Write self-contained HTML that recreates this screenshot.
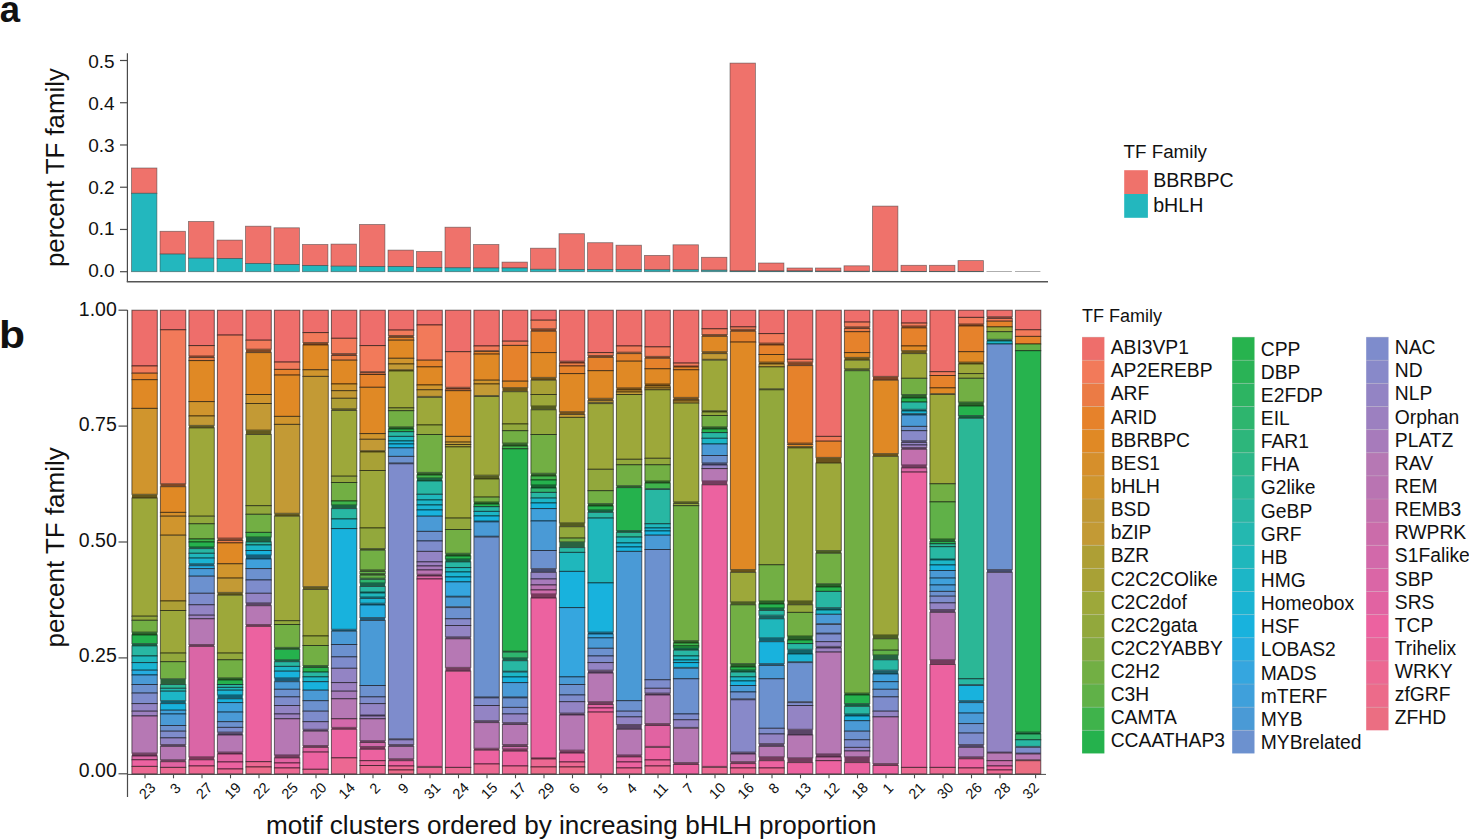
<!DOCTYPE html>
<html><head><meta charset="utf-8"><style>
html,body{margin:0;padding:0;background:#fff;}
body{width:1469px;height:840px;position:relative;overflow:hidden;font-family:"Liberation Sans",sans-serif;}
</style></head><body>
<svg width="1469" height="840" viewBox="0 0 1469 840" style="position:absolute;left:0;top:0">
<g font-family="'Liberation Sans', sans-serif" fill="#111">
<text x="-0.3" y="22.0" font-size="36.5" font-weight="bold">a</text>
<text transform="translate(-0.9,348) scale(1.12,1)" font-size="38" font-weight="bold">b</text>
<line x1="127.4" y1="53.2" x2="127.4" y2="282" stroke="#4a4a4a" stroke-width="1.2"/>
<line x1="126.8" y1="281.8" x2="1048" y2="281.8" stroke="#555" stroke-width="1.4"/>
<line x1="120" y1="271.70" x2="127.4" y2="271.70" stroke="#4a4a4a" stroke-width="1.2"/>
<text x="114.7" y="277.05" font-size="19" text-anchor="end">0.0</text>
<line x1="120" y1="229.46" x2="127.4" y2="229.46" stroke="#4a4a4a" stroke-width="1.2"/>
<text x="114.7" y="235.32" font-size="19" text-anchor="end">0.1</text>
<line x1="120" y1="187.22" x2="127.4" y2="187.22" stroke="#4a4a4a" stroke-width="1.2"/>
<text x="114.7" y="193.59" font-size="19" text-anchor="end">0.2</text>
<line x1="120" y1="144.98" x2="127.4" y2="144.98" stroke="#4a4a4a" stroke-width="1.2"/>
<text x="114.7" y="151.86" font-size="19" text-anchor="end">0.3</text>
<line x1="120" y1="102.74" x2="127.4" y2="102.74" stroke="#4a4a4a" stroke-width="1.2"/>
<text x="114.7" y="110.13" font-size="19" text-anchor="end">0.4</text>
<line x1="120" y1="60.50" x2="127.4" y2="60.50" stroke="#4a4a4a" stroke-width="1.2"/>
<text x="114.7" y="68.40" font-size="19" text-anchor="end">0.5</text>
<text transform="translate(64,167.6) rotate(-90)" font-size="25.8" text-anchor="middle">percent TF family</text>
<rect x="131.50" y="168.00" width="25.4" height="25.30" fill="#EF726B" stroke="#3a3a3a" stroke-width="0.8" stroke-opacity="0.6"/>
<rect x="131.50" y="193.30" width="25.4" height="78.40" fill="#23B7BE" stroke="#3a3a3a" stroke-width="0.8" stroke-opacity="0.6"/>
<rect x="160.00" y="231.30" width="25.4" height="22.80" fill="#EF726B" stroke="#3a3a3a" stroke-width="0.8" stroke-opacity="0.6"/>
<rect x="160.00" y="254.10" width="25.4" height="17.60" fill="#23B7BE" stroke="#3a3a3a" stroke-width="0.8" stroke-opacity="0.6"/>
<rect x="188.50" y="221.50" width="25.4" height="36.70" fill="#EF726B" stroke="#3a3a3a" stroke-width="0.8" stroke-opacity="0.6"/>
<rect x="188.50" y="258.20" width="25.4" height="13.50" fill="#23B7BE" stroke="#3a3a3a" stroke-width="0.8" stroke-opacity="0.6"/>
<rect x="217.00" y="240.10" width="25.4" height="18.50" fill="#EF726B" stroke="#3a3a3a" stroke-width="0.8" stroke-opacity="0.6"/>
<rect x="217.00" y="258.60" width="25.4" height="13.10" fill="#23B7BE" stroke="#3a3a3a" stroke-width="0.8" stroke-opacity="0.6"/>
<rect x="245.50" y="226.20" width="25.4" height="37.30" fill="#EF726B" stroke="#3a3a3a" stroke-width="0.8" stroke-opacity="0.6"/>
<rect x="245.50" y="263.50" width="25.4" height="8.20" fill="#23B7BE" stroke="#3a3a3a" stroke-width="0.8" stroke-opacity="0.6"/>
<rect x="274.00" y="227.80" width="25.4" height="36.80" fill="#EF726B" stroke="#3a3a3a" stroke-width="0.8" stroke-opacity="0.6"/>
<rect x="274.00" y="264.60" width="25.4" height="7.10" fill="#23B7BE" stroke="#3a3a3a" stroke-width="0.8" stroke-opacity="0.6"/>
<rect x="302.50" y="244.50" width="25.4" height="21.10" fill="#EF726B" stroke="#3a3a3a" stroke-width="0.8" stroke-opacity="0.6"/>
<rect x="302.50" y="265.60" width="25.4" height="6.10" fill="#23B7BE" stroke="#3a3a3a" stroke-width="0.8" stroke-opacity="0.6"/>
<rect x="331.00" y="244.10" width="25.4" height="22.10" fill="#EF726B" stroke="#3a3a3a" stroke-width="0.8" stroke-opacity="0.6"/>
<rect x="331.00" y="266.20" width="25.4" height="5.50" fill="#23B7BE" stroke="#3a3a3a" stroke-width="0.8" stroke-opacity="0.6"/>
<rect x="359.50" y="224.50" width="25.4" height="42.10" fill="#EF726B" stroke="#3a3a3a" stroke-width="0.8" stroke-opacity="0.6"/>
<rect x="359.50" y="266.60" width="25.4" height="5.10" fill="#23B7BE" stroke="#3a3a3a" stroke-width="0.8" stroke-opacity="0.6"/>
<rect x="388.00" y="250.10" width="25.4" height="16.50" fill="#EF726B" stroke="#3a3a3a" stroke-width="0.8" stroke-opacity="0.6"/>
<rect x="388.00" y="266.60" width="25.4" height="5.10" fill="#23B7BE" stroke="#3a3a3a" stroke-width="0.8" stroke-opacity="0.6"/>
<rect x="416.50" y="251.50" width="25.4" height="16.10" fill="#EF726B" stroke="#3a3a3a" stroke-width="0.8" stroke-opacity="0.6"/>
<rect x="416.50" y="267.60" width="25.4" height="4.10" fill="#23B7BE" stroke="#3a3a3a" stroke-width="0.8" stroke-opacity="0.6"/>
<rect x="445.00" y="227.20" width="25.4" height="40.60" fill="#EF726B" stroke="#3a3a3a" stroke-width="0.8" stroke-opacity="0.6"/>
<rect x="445.00" y="267.80" width="25.4" height="3.90" fill="#23B7BE" stroke="#3a3a3a" stroke-width="0.8" stroke-opacity="0.6"/>
<rect x="473.50" y="244.50" width="25.4" height="23.50" fill="#EF726B" stroke="#3a3a3a" stroke-width="0.8" stroke-opacity="0.6"/>
<rect x="473.50" y="268.00" width="25.4" height="3.70" fill="#23B7BE" stroke="#3a3a3a" stroke-width="0.8" stroke-opacity="0.6"/>
<rect x="502.00" y="262.10" width="25.4" height="5.90" fill="#EF726B" stroke="#3a3a3a" stroke-width="0.8" stroke-opacity="0.6"/>
<rect x="502.00" y="268.00" width="25.4" height="3.70" fill="#23B7BE" stroke="#3a3a3a" stroke-width="0.8" stroke-opacity="0.6"/>
<rect x="530.50" y="248.20" width="25.4" height="21.10" fill="#EF726B" stroke="#3a3a3a" stroke-width="0.8" stroke-opacity="0.6"/>
<rect x="530.50" y="269.30" width="25.4" height="2.40" fill="#23B7BE" stroke="#3a3a3a" stroke-width="0.8" stroke-opacity="0.6"/>
<rect x="559.00" y="233.70" width="25.4" height="35.80" fill="#EF726B" stroke="#3a3a3a" stroke-width="0.8" stroke-opacity="0.6"/>
<rect x="559.00" y="269.50" width="25.4" height="2.20" fill="#23B7BE" stroke="#3a3a3a" stroke-width="0.8" stroke-opacity="0.6"/>
<rect x="587.50" y="242.70" width="25.4" height="26.80" fill="#EF726B" stroke="#3a3a3a" stroke-width="0.8" stroke-opacity="0.6"/>
<rect x="587.50" y="269.50" width="25.4" height="2.20" fill="#23B7BE" stroke="#3a3a3a" stroke-width="0.8" stroke-opacity="0.6"/>
<rect x="616.00" y="245.20" width="25.4" height="24.40" fill="#EF726B" stroke="#3a3a3a" stroke-width="0.8" stroke-opacity="0.6"/>
<rect x="616.00" y="269.60" width="25.4" height="2.10" fill="#23B7BE" stroke="#3a3a3a" stroke-width="0.8" stroke-opacity="0.6"/>
<rect x="644.50" y="255.40" width="25.4" height="14.40" fill="#EF726B" stroke="#3a3a3a" stroke-width="0.8" stroke-opacity="0.6"/>
<rect x="644.50" y="269.80" width="25.4" height="1.90" fill="#23B7BE" stroke="#3a3a3a" stroke-width="0.8" stroke-opacity="0.6"/>
<rect x="673.00" y="244.80" width="25.4" height="25.00" fill="#EF726B" stroke="#3a3a3a" stroke-width="0.8" stroke-opacity="0.6"/>
<rect x="673.00" y="269.80" width="25.4" height="1.90" fill="#23B7BE" stroke="#3a3a3a" stroke-width="0.8" stroke-opacity="0.6"/>
<rect x="701.50" y="257.30" width="25.4" height="12.90" fill="#EF726B" stroke="#3a3a3a" stroke-width="0.8" stroke-opacity="0.6"/>
<rect x="701.50" y="270.20" width="25.4" height="1.50" fill="#23B7BE" stroke="#3a3a3a" stroke-width="0.8" stroke-opacity="0.6"/>
<rect x="730.00" y="63.10" width="25.4" height="207.90" fill="#EF726B" stroke="#3a3a3a" stroke-width="0.8" stroke-opacity="0.6"/>
<rect x="730.00" y="271.00" width="25.4" height="0.70" fill="#23B7BE" stroke="#3a3a3a" stroke-width="0.8" stroke-opacity="0.6"/>
<rect x="758.50" y="263.00" width="25.4" height="8.00" fill="#EF726B" stroke="#3a3a3a" stroke-width="0.8" stroke-opacity="0.6"/>
<rect x="758.50" y="271.00" width="25.4" height="0.70" fill="#23B7BE" stroke="#3a3a3a" stroke-width="0.8" stroke-opacity="0.6"/>
<rect x="787.00" y="268.00" width="25.4" height="3.00" fill="#EF726B" stroke="#3a3a3a" stroke-width="0.8" stroke-opacity="0.6"/>
<rect x="787.00" y="271.00" width="25.4" height="0.70" fill="#23B7BE" stroke="#3a3a3a" stroke-width="0.8" stroke-opacity="0.6"/>
<rect x="815.50" y="268.00" width="25.4" height="3.20" fill="#EF726B" stroke="#3a3a3a" stroke-width="0.8" stroke-opacity="0.6"/>
<rect x="815.50" y="271.20" width="25.4" height="0.50" fill="#23B7BE" stroke="#3a3a3a" stroke-width="0.8" stroke-opacity="0.6"/>
<rect x="844.00" y="265.80" width="25.4" height="5.50" fill="#EF726B" stroke="#3a3a3a" stroke-width="0.8" stroke-opacity="0.6"/>
<rect x="844.00" y="271.30" width="25.4" height="0.40" fill="#23B7BE" stroke="#3a3a3a" stroke-width="0.8" stroke-opacity="0.6"/>
<rect x="872.50" y="206.10" width="25.4" height="65.20" fill="#EF726B" stroke="#3a3a3a" stroke-width="0.8" stroke-opacity="0.6"/>
<rect x="872.50" y="271.30" width="25.4" height="0.40" fill="#23B7BE" stroke="#3a3a3a" stroke-width="0.8" stroke-opacity="0.6"/>
<rect x="901.00" y="265.30" width="25.4" height="6.10" fill="#EF726B" stroke="#3a3a3a" stroke-width="0.8" stroke-opacity="0.6"/>
<rect x="901.00" y="271.40" width="25.4" height="0.30" fill="#23B7BE" stroke="#3a3a3a" stroke-width="0.8" stroke-opacity="0.6"/>
<rect x="929.50" y="265.30" width="25.4" height="6.10" fill="#EF726B" stroke="#3a3a3a" stroke-width="0.8" stroke-opacity="0.6"/>
<rect x="929.50" y="271.40" width="25.4" height="0.30" fill="#23B7BE" stroke="#3a3a3a" stroke-width="0.8" stroke-opacity="0.6"/>
<rect x="958.00" y="260.60" width="25.4" height="10.80" fill="#EF726B" stroke="#3a3a3a" stroke-width="0.8" stroke-opacity="0.6"/>
<rect x="958.00" y="271.40" width="25.4" height="0.30" fill="#23B7BE" stroke="#3a3a3a" stroke-width="0.8" stroke-opacity="0.6"/>
<line x1="986.50" y1="271.50" x2="1011.90" y2="271.50" stroke="#999" stroke-width="0.8"/>
<line x1="1015.00" y1="271.50" x2="1040.40" y2="271.50" stroke="#999" stroke-width="0.8"/>
<text x="1123.5" y="157.9" font-size="18.8">TF Family</text>
<rect x="1124.2" y="170.2" width="23.7" height="23.8" fill="#EF726B" stroke="#fff" stroke-width="0"/>
<rect x="1124.2" y="194" width="23.7" height="23.8" fill="#23B7BE"/>
<text x="1153.2" y="186.9" font-size="19.6">BBRBPC</text>
<text x="1153.2" y="211.6" font-size="19.6">bHLH</text>
<line x1="127.5" y1="310" x2="127.5" y2="797" stroke="#4a4a4a" stroke-width="1.2"/>
<line x1="127.5" y1="774.4" x2="1046" y2="774.4" stroke="#4a4a4a" stroke-width="1"/>
<line x1="118.5" y1="773.80" x2="127.5" y2="773.80" stroke="#4a4a4a" stroke-width="1.2"/>
<text x="116.8" y="776.90" font-size="19.5" text-anchor="end">0.00</text>
<line x1="118.5" y1="657.90" x2="127.5" y2="657.90" stroke="#4a4a4a" stroke-width="1.2"/>
<text x="116.8" y="661.72" font-size="19.5" text-anchor="end">0.25</text>
<line x1="118.5" y1="542.00" x2="127.5" y2="542.00" stroke="#4a4a4a" stroke-width="1.2"/>
<text x="116.8" y="546.54" font-size="19.5" text-anchor="end">0.50</text>
<line x1="118.5" y1="426.10" x2="127.5" y2="426.10" stroke="#4a4a4a" stroke-width="1.2"/>
<text x="116.8" y="431.36" font-size="19.5" text-anchor="end">0.75</text>
<line x1="118.5" y1="310.20" x2="127.5" y2="310.20" stroke="#4a4a4a" stroke-width="1.2"/>
<text x="116.8" y="316.18" font-size="19.5" text-anchor="end">1.00</text>
<text transform="translate(64,547.4) rotate(-90)" font-size="26" text-anchor="middle">percent TF family</text>
<text x="266" y="834.1" font-size="26.1">motif clusters ordered by increasing bHLH proportion</text>
<rect x="131.90" y="310.20" width="25.4" height="55.80" fill="#EE6E6B" stroke="#000" stroke-width="1.0" stroke-opacity="0.55"/>
<rect x="131.90" y="366.00" width="25.4" height="7.20" fill="#F27A5A" stroke="#000" stroke-width="1.0" stroke-opacity="0.55"/>
<rect x="131.90" y="373.20" width="25.4" height="6.50" fill="#E6822B" stroke="#000" stroke-width="1.0" stroke-opacity="0.55"/>
<rect x="131.90" y="379.70" width="25.4" height="28.70" fill="#E08925" stroke="#000" stroke-width="1.0" stroke-opacity="0.55"/>
<rect x="131.90" y="408.40" width="25.4" height="85.90" fill="#D0952D" stroke="#000" stroke-width="1.0" stroke-opacity="0.55"/>
<rect x="131.90" y="494.30" width="25.4" height="3.80" fill="#64571C"/>
<rect x="131.90" y="498.10" width="25.4" height="118.10" fill="#9DA83A" stroke="#000" stroke-width="1.0" stroke-opacity="0.55"/>
<rect x="131.90" y="616.20" width="25.4" height="4.10" fill="#92A83C" stroke="#000" stroke-width="1.0" stroke-opacity="0.55"/>
<rect x="131.90" y="620.30" width="25.4" height="11.80" fill="#72AF44" stroke="#000" stroke-width="1.0" stroke-opacity="0.55"/>
<rect x="131.90" y="632.10" width="25.4" height="2.90" fill="#2A6128"/>
<rect x="131.90" y="635.00" width="25.4" height="8.60" fill="#25B24D" stroke="#000" stroke-width="1.0" stroke-opacity="0.55"/>
<rect x="131.90" y="643.60" width="25.4" height="2.30" fill="#156342"/>
<rect x="131.90" y="645.90" width="25.4" height="10.10" fill="#28B7A3" stroke="#000" stroke-width="1.0" stroke-opacity="0.55"/>
<rect x="131.90" y="656.00" width="25.4" height="6.60" fill="#1FB7BC" stroke="#000" stroke-width="1.0" stroke-opacity="0.55"/>
<rect x="131.90" y="662.60" width="25.4" height="7.60" fill="#1AB4D2" stroke="#000" stroke-width="1.0" stroke-opacity="0.55"/>
<rect x="131.90" y="670.20" width="25.4" height="4.80" fill="#25ACE0" stroke="#000" stroke-width="1.0" stroke-opacity="0.55"/>
<rect x="131.90" y="675.00" width="25.4" height="9.50" fill="#4A9AD6" stroke="#000" stroke-width="1.0" stroke-opacity="0.55"/>
<rect x="131.90" y="684.50" width="25.4" height="8.60" fill="#6C91CF" stroke="#000" stroke-width="1.0" stroke-opacity="0.55"/>
<rect x="131.90" y="693.10" width="25.4" height="10.50" fill="#7E8CCC" stroke="#000" stroke-width="1.0" stroke-opacity="0.55"/>
<rect x="131.90" y="703.60" width="25.4" height="7.60" fill="#9384C4" stroke="#000" stroke-width="1.0" stroke-opacity="0.55"/>
<rect x="131.90" y="711.20" width="25.4" height="4.80" fill="#9C80C0" stroke="#000" stroke-width="1.0" stroke-opacity="0.55"/>
<rect x="131.90" y="716.00" width="25.4" height="37.10" fill="#B678B4" stroke="#000" stroke-width="1.0" stroke-opacity="0.55"/>
<rect x="131.90" y="753.10" width="25.4" height="2.90" fill="#6E3D5F"/>
<rect x="131.90" y="756.00" width="25.4" height="3.80" fill="#DA66A6" stroke="#000" stroke-width="1.0" stroke-opacity="0.55"/>
<rect x="131.90" y="759.80" width="25.4" height="6.60" fill="#EC62A0" stroke="#000" stroke-width="1.0" stroke-opacity="0.55"/>
<rect x="131.90" y="766.40" width="25.4" height="7.40" fill="#EC6892" stroke="#000" stroke-width="1.0" stroke-opacity="0.55"/>
<line x1="145.00" y1="774.5" x2="145.00" y2="778.3" stroke="#4a4a4a" stroke-width="1.1"/>
<text transform="translate(147.20,790.70) rotate(-45)" font-size="14.5" text-anchor="middle" dominant-baseline="central">23</text>
<rect x="160.40" y="310.20" width="25.4" height="19.60" fill="#EE6E6B" stroke="#000" stroke-width="1.0" stroke-opacity="0.55"/>
<rect x="160.40" y="329.80" width="25.4" height="154.00" fill="#F27A5A" stroke="#000" stroke-width="1.0" stroke-opacity="0.55"/>
<rect x="160.40" y="483.80" width="25.4" height="2.90" fill="#804723"/>
<rect x="160.40" y="486.70" width="25.4" height="25.70" fill="#E08925" stroke="#000" stroke-width="1.0" stroke-opacity="0.55"/>
<rect x="160.40" y="512.40" width="25.4" height="3.80" fill="#D68F2B" stroke="#000" stroke-width="1.0" stroke-opacity="0.55"/>
<rect x="160.40" y="516.20" width="25.4" height="19.00" fill="#D0952D" stroke="#000" stroke-width="1.0" stroke-opacity="0.55"/>
<rect x="160.40" y="535.20" width="25.4" height="65.80" fill="#C39A35" stroke="#000" stroke-width="1.0" stroke-opacity="0.55"/>
<rect x="160.40" y="601.00" width="25.4" height="9.50" fill="#AE9F35" stroke="#000" stroke-width="1.0" stroke-opacity="0.55"/>
<rect x="160.40" y="610.50" width="25.4" height="42.60" fill="#9DA83A" stroke="#000" stroke-width="1.0" stroke-opacity="0.55"/>
<rect x="160.40" y="653.10" width="25.4" height="8.60" fill="#92A83C" stroke="#000" stroke-width="1.0" stroke-opacity="0.55"/>
<rect x="160.40" y="661.70" width="25.4" height="17.10" fill="#72AF44" stroke="#000" stroke-width="1.0" stroke-opacity="0.55"/>
<rect x="160.40" y="678.80" width="25.4" height="5.70" fill="#2B623C"/>
<rect x="160.40" y="684.50" width="25.4" height="3.80" fill="#2BB796" stroke="#000" stroke-width="1.0" stroke-opacity="0.55"/>
<rect x="160.40" y="688.30" width="25.4" height="2.90" fill="#24B8B0" stroke="#000" stroke-width="1.0" stroke-opacity="0.55"/>
<rect x="160.40" y="691.20" width="25.4" height="9.50" fill="#1CB6C7" stroke="#000" stroke-width="1.0" stroke-opacity="0.55"/>
<rect x="160.40" y="700.70" width="25.4" height="2.90" fill="#0E6374"/>
<rect x="160.40" y="703.60" width="25.4" height="6.60" fill="#18B2DD" stroke="#000" stroke-width="1.0" stroke-opacity="0.55"/>
<rect x="160.40" y="710.20" width="25.4" height="3.80" fill="#3FA0DB" stroke="#000" stroke-width="1.0" stroke-opacity="0.55"/>
<rect x="160.40" y="714.00" width="25.4" height="11.50" fill="#4A9AD6" stroke="#000" stroke-width="1.0" stroke-opacity="0.55"/>
<rect x="160.40" y="725.50" width="25.4" height="5.70" fill="#6C91CF" stroke="#000" stroke-width="1.0" stroke-opacity="0.55"/>
<rect x="160.40" y="731.20" width="25.4" height="6.70" fill="#7E8CCC" stroke="#000" stroke-width="1.0" stroke-opacity="0.55"/>
<rect x="160.40" y="737.90" width="25.4" height="6.60" fill="#9384C4" stroke="#000" stroke-width="1.0" stroke-opacity="0.55"/>
<rect x="160.40" y="744.50" width="25.4" height="1.90" fill="#5A4567"/>
<rect x="160.40" y="746.40" width="25.4" height="13.40" fill="#B678B4" stroke="#000" stroke-width="1.0" stroke-opacity="0.55"/>
<rect x="160.40" y="759.80" width="25.4" height="1.90" fill="#703C5E"/>
<rect x="160.40" y="761.70" width="25.4" height="5.70" fill="#E163A2" stroke="#000" stroke-width="1.0" stroke-opacity="0.55"/>
<rect x="160.40" y="767.40" width="25.4" height="6.40" fill="#EC6892" stroke="#000" stroke-width="1.0" stroke-opacity="0.55"/>
<line x1="173.50" y1="774.5" x2="173.50" y2="778.3" stroke="#4a4a4a" stroke-width="1.1"/>
<text transform="translate(175.40,788.40) rotate(-45)" font-size="14.5" text-anchor="middle" dominant-baseline="central">3</text>
<rect x="188.90" y="310.20" width="25.4" height="35.40" fill="#EE6E6B" stroke="#000" stroke-width="1.0" stroke-opacity="0.55"/>
<rect x="188.90" y="345.60" width="25.4" height="10.40" fill="#F27A5A" stroke="#000" stroke-width="1.0" stroke-opacity="0.55"/>
<rect x="188.90" y="356.00" width="25.4" height="1.50" fill="#83432C"/>
<rect x="188.90" y="357.50" width="25.4" height="3.10" fill="#EB7B45" stroke="#000" stroke-width="1.0" stroke-opacity="0.55"/>
<rect x="188.90" y="360.60" width="25.4" height="41.00" fill="#E08925" stroke="#000" stroke-width="1.0" stroke-opacity="0.55"/>
<rect x="188.90" y="401.60" width="25.4" height="14.40" fill="#D0952D" stroke="#000" stroke-width="1.0" stroke-opacity="0.55"/>
<rect x="188.90" y="416.00" width="25.4" height="9.40" fill="#C39A35" stroke="#000" stroke-width="1.0" stroke-opacity="0.55"/>
<rect x="188.90" y="425.40" width="25.4" height="2.50" fill="#61591F"/>
<rect x="188.90" y="427.90" width="25.4" height="88.30" fill="#9DA83A" stroke="#000" stroke-width="1.0" stroke-opacity="0.55"/>
<rect x="188.90" y="516.20" width="25.4" height="7.60" fill="#92A83C" stroke="#000" stroke-width="1.0" stroke-opacity="0.55"/>
<rect x="188.90" y="523.80" width="25.4" height="15.20" fill="#72AF44" stroke="#000" stroke-width="1.0" stroke-opacity="0.55"/>
<rect x="188.90" y="539.00" width="25.4" height="3.00" fill="#3FB34B" stroke="#000" stroke-width="1.0" stroke-opacity="0.55"/>
<rect x="188.90" y="542.00" width="25.4" height="5.00" fill="#25B24D" stroke="#000" stroke-width="1.0" stroke-opacity="0.55"/>
<rect x="188.90" y="547.00" width="25.4" height="1.60" fill="#156342"/>
<rect x="188.90" y="548.60" width="25.4" height="4.70" fill="#28B7A3" stroke="#000" stroke-width="1.0" stroke-opacity="0.55"/>
<rect x="188.90" y="553.30" width="25.4" height="4.80" fill="#1FB7BC" stroke="#000" stroke-width="1.0" stroke-opacity="0.55"/>
<rect x="188.90" y="558.10" width="25.4" height="5.70" fill="#1AB4D2" stroke="#000" stroke-width="1.0" stroke-opacity="0.55"/>
<rect x="188.90" y="563.80" width="25.4" height="1.90" fill="#116177"/>
<rect x="188.90" y="565.70" width="25.4" height="2.90" fill="#25ACE0" stroke="#000" stroke-width="1.0" stroke-opacity="0.55"/>
<rect x="188.90" y="568.60" width="25.4" height="7.60" fill="#4A9AD6" stroke="#000" stroke-width="1.0" stroke-opacity="0.55"/>
<rect x="188.90" y="576.20" width="25.4" height="17.10" fill="#6C91CF" stroke="#000" stroke-width="1.0" stroke-opacity="0.55"/>
<rect x="188.90" y="593.30" width="25.4" height="11.50" fill="#7E8CCC" stroke="#000" stroke-width="1.0" stroke-opacity="0.55"/>
<rect x="188.90" y="604.80" width="25.4" height="10.40" fill="#9384C4" stroke="#000" stroke-width="1.0" stroke-opacity="0.55"/>
<rect x="188.90" y="615.20" width="25.4" height="3.60" fill="#9C80C0" stroke="#000" stroke-width="1.0" stroke-opacity="0.55"/>
<rect x="188.90" y="618.80" width="25.4" height="25.70" fill="#B678B4" stroke="#000" stroke-width="1.0" stroke-opacity="0.55"/>
<rect x="188.90" y="644.50" width="25.4" height="1.90" fill="#6E3D5F"/>
<rect x="188.90" y="646.40" width="25.4" height="110.50" fill="#DA66A6" stroke="#000" stroke-width="1.0" stroke-opacity="0.55"/>
<rect x="188.90" y="756.90" width="25.4" height="2.90" fill="#7D375A"/>
<rect x="188.90" y="759.80" width="25.4" height="6.20" fill="#EC62A0" stroke="#000" stroke-width="1.0" stroke-opacity="0.55"/>
<rect x="188.90" y="766.00" width="25.4" height="7.80" fill="#EC6892" stroke="#000" stroke-width="1.0" stroke-opacity="0.55"/>
<line x1="202.00" y1="774.5" x2="202.00" y2="778.3" stroke="#4a4a4a" stroke-width="1.1"/>
<text transform="translate(204.20,790.70) rotate(-45)" font-size="14.5" text-anchor="middle" dominant-baseline="central">27</text>
<rect x="217.40" y="310.20" width="25.4" height="24.90" fill="#EE6E6B" stroke="#000" stroke-width="1.0" stroke-opacity="0.55"/>
<rect x="217.40" y="335.10" width="25.4" height="203.00" fill="#F27A5A" stroke="#000" stroke-width="1.0" stroke-opacity="0.55"/>
<rect x="217.40" y="538.10" width="25.4" height="2.40" fill="#83432C"/>
<rect x="217.40" y="540.50" width="25.4" height="2.40" fill="#EB7B45" stroke="#000" stroke-width="1.0" stroke-opacity="0.55"/>
<rect x="217.40" y="542.90" width="25.4" height="20.90" fill="#E08925" stroke="#000" stroke-width="1.0" stroke-opacity="0.55"/>
<rect x="217.40" y="563.80" width="25.4" height="14.30" fill="#D0952D" stroke="#000" stroke-width="1.0" stroke-opacity="0.55"/>
<rect x="217.40" y="578.10" width="25.4" height="14.30" fill="#C39A35" stroke="#000" stroke-width="1.0" stroke-opacity="0.55"/>
<rect x="217.40" y="592.40" width="25.4" height="2.80" fill="#61591F"/>
<rect x="217.40" y="595.20" width="25.4" height="57.90" fill="#9DA83A" stroke="#000" stroke-width="1.0" stroke-opacity="0.55"/>
<rect x="217.40" y="653.10" width="25.4" height="6.70" fill="#92A83C" stroke="#000" stroke-width="1.0" stroke-opacity="0.55"/>
<rect x="217.40" y="659.80" width="25.4" height="18.10" fill="#72AF44" stroke="#000" stroke-width="1.0" stroke-opacity="0.55"/>
<rect x="217.40" y="677.90" width="25.4" height="2.10" fill="#2A6128"/>
<rect x="217.40" y="680.00" width="25.4" height="4.50" fill="#25B24D" stroke="#000" stroke-width="1.0" stroke-opacity="0.55"/>
<rect x="217.40" y="684.50" width="25.4" height="2.90" fill="#28B7A3" stroke="#000" stroke-width="1.0" stroke-opacity="0.55"/>
<rect x="217.40" y="687.40" width="25.4" height="2.80" fill="#1FB7BC" stroke="#000" stroke-width="1.0" stroke-opacity="0.55"/>
<rect x="217.40" y="690.20" width="25.4" height="4.80" fill="#1AB4D2" stroke="#000" stroke-width="1.0" stroke-opacity="0.55"/>
<rect x="217.40" y="695.00" width="25.4" height="3.80" fill="#0E6277"/>
<rect x="217.40" y="698.80" width="25.4" height="3.80" fill="#18B2DD" stroke="#000" stroke-width="1.0" stroke-opacity="0.55"/>
<rect x="217.40" y="702.60" width="25.4" height="9.50" fill="#3FA0DB" stroke="#000" stroke-width="1.0" stroke-opacity="0.55"/>
<rect x="217.40" y="712.10" width="25.4" height="9.60" fill="#4A9AD6" stroke="#000" stroke-width="1.0" stroke-opacity="0.55"/>
<rect x="217.40" y="721.70" width="25.4" height="5.70" fill="#6C91CF" stroke="#000" stroke-width="1.0" stroke-opacity="0.55"/>
<rect x="217.40" y="727.40" width="25.4" height="4.70" fill="#7E8CCC" stroke="#000" stroke-width="1.0" stroke-opacity="0.55"/>
<rect x="217.40" y="732.10" width="25.4" height="2.90" fill="#55486A"/>
<rect x="217.40" y="735.00" width="25.4" height="17.10" fill="#B678B4" stroke="#000" stroke-width="1.0" stroke-opacity="0.55"/>
<rect x="217.40" y="752.10" width="25.4" height="1.90" fill="#703C5E"/>
<rect x="217.40" y="754.00" width="25.4" height="8.00" fill="#E163A2" stroke="#000" stroke-width="1.0" stroke-opacity="0.55"/>
<rect x="217.40" y="762.00" width="25.4" height="7.00" fill="#EC62A0" stroke="#000" stroke-width="1.0" stroke-opacity="0.55"/>
<rect x="217.40" y="769.00" width="25.4" height="4.80" fill="#EC6892" stroke="#000" stroke-width="1.0" stroke-opacity="0.55"/>
<line x1="230.50" y1="774.5" x2="230.50" y2="778.3" stroke="#4a4a4a" stroke-width="1.1"/>
<text transform="translate(232.70,790.70) rotate(-45)" font-size="14.5" text-anchor="middle" dominant-baseline="central">19</text>
<rect x="245.90" y="310.20" width="25.4" height="30.00" fill="#EE6E6B" stroke="#000" stroke-width="1.0" stroke-opacity="0.55"/>
<rect x="245.90" y="340.20" width="25.4" height="9.00" fill="#F27A5A" stroke="#000" stroke-width="1.0" stroke-opacity="0.55"/>
<rect x="245.90" y="349.20" width="25.4" height="3.40" fill="#804723"/>
<rect x="245.90" y="352.60" width="25.4" height="41.90" fill="#E08925" stroke="#000" stroke-width="1.0" stroke-opacity="0.55"/>
<rect x="245.90" y="394.50" width="25.4" height="9.00" fill="#D0952D" stroke="#000" stroke-width="1.0" stroke-opacity="0.55"/>
<rect x="245.90" y="403.50" width="25.4" height="26.60" fill="#C39A35" stroke="#000" stroke-width="1.0" stroke-opacity="0.55"/>
<rect x="245.90" y="430.10" width="25.4" height="4.40" fill="#61591F"/>
<rect x="245.90" y="434.50" width="25.4" height="71.20" fill="#9DA83A" stroke="#000" stroke-width="1.0" stroke-opacity="0.55"/>
<rect x="245.90" y="505.70" width="25.4" height="8.60" fill="#92A83C" stroke="#000" stroke-width="1.0" stroke-opacity="0.55"/>
<rect x="245.90" y="514.30" width="25.4" height="18.10" fill="#72AF44" stroke="#000" stroke-width="1.0" stroke-opacity="0.55"/>
<rect x="245.90" y="532.40" width="25.4" height="4.60" fill="#3FB34B" stroke="#000" stroke-width="1.0" stroke-opacity="0.55"/>
<rect x="245.90" y="537.00" width="25.4" height="4.90" fill="#1C6441"/>
<rect x="245.90" y="541.90" width="25.4" height="3.10" fill="#28B7A3" stroke="#000" stroke-width="1.0" stroke-opacity="0.55"/>
<rect x="245.90" y="545.00" width="25.4" height="5.50" fill="#1CB6C7" stroke="#000" stroke-width="1.0" stroke-opacity="0.55"/>
<rect x="245.90" y="550.50" width="25.4" height="4.50" fill="#18B2DD" stroke="#000" stroke-width="1.0" stroke-opacity="0.55"/>
<rect x="245.90" y="555.00" width="25.4" height="4.00" fill="#185D79"/>
<rect x="245.90" y="559.00" width="25.4" height="9.60" fill="#3FA0DB" stroke="#000" stroke-width="1.0" stroke-opacity="0.55"/>
<rect x="245.90" y="568.60" width="25.4" height="11.40" fill="#6C91CF" stroke="#000" stroke-width="1.0" stroke-opacity="0.55"/>
<rect x="245.90" y="580.00" width="25.4" height="13.30" fill="#7E8CCC" stroke="#000" stroke-width="1.0" stroke-opacity="0.55"/>
<rect x="245.90" y="593.30" width="25.4" height="9.60" fill="#9384C4" stroke="#000" stroke-width="1.0" stroke-opacity="0.55"/>
<rect x="245.90" y="602.90" width="25.4" height="2.80" fill="#5A4567"/>
<rect x="245.90" y="605.70" width="25.4" height="18.80" fill="#B678B4" stroke="#000" stroke-width="1.0" stroke-opacity="0.55"/>
<rect x="245.90" y="624.50" width="25.4" height="1.90" fill="#733C5E"/>
<rect x="245.90" y="626.40" width="25.4" height="135.30" fill="#EC62A0" stroke="#000" stroke-width="1.0" stroke-opacity="0.55"/>
<rect x="245.90" y="761.70" width="25.4" height="5.30" fill="#EC6892" stroke="#000" stroke-width="1.0" stroke-opacity="0.55"/>
<rect x="245.90" y="767.00" width="25.4" height="6.80" fill="#EC6B8A" stroke="#000" stroke-width="1.0" stroke-opacity="0.55"/>
<line x1="259.00" y1="774.5" x2="259.00" y2="778.3" stroke="#4a4a4a" stroke-width="1.1"/>
<text transform="translate(261.20,790.70) rotate(-45)" font-size="14.5" text-anchor="middle" dominant-baseline="central">22</text>
<rect x="274.40" y="310.20" width="25.4" height="51.90" fill="#EE6E6B" stroke="#000" stroke-width="1.0" stroke-opacity="0.55"/>
<rect x="274.40" y="362.10" width="25.4" height="7.30" fill="#F27A5A" stroke="#000" stroke-width="1.0" stroke-opacity="0.55"/>
<rect x="274.40" y="369.40" width="25.4" height="5.70" fill="#E6822B" stroke="#000" stroke-width="1.0" stroke-opacity="0.55"/>
<rect x="274.40" y="375.10" width="25.4" height="41.30" fill="#E08925" stroke="#000" stroke-width="1.0" stroke-opacity="0.55"/>
<rect x="274.40" y="416.40" width="25.4" height="8.00" fill="#D0952D" stroke="#000" stroke-width="1.0" stroke-opacity="0.55"/>
<rect x="274.40" y="424.40" width="25.4" height="88.90" fill="#C39A35" stroke="#000" stroke-width="1.0" stroke-opacity="0.55"/>
<rect x="274.40" y="513.30" width="25.4" height="2.90" fill="#61591F"/>
<rect x="274.40" y="516.20" width="25.4" height="104.50" fill="#9DA83A" stroke="#000" stroke-width="1.0" stroke-opacity="0.55"/>
<rect x="274.40" y="620.70" width="25.4" height="3.80" fill="#92A83C" stroke="#000" stroke-width="1.0" stroke-opacity="0.55"/>
<rect x="274.40" y="624.50" width="25.4" height="22.90" fill="#72AF44" stroke="#000" stroke-width="1.0" stroke-opacity="0.55"/>
<rect x="274.40" y="647.40" width="25.4" height="1.90" fill="#2A6128"/>
<rect x="274.40" y="649.30" width="25.4" height="10.50" fill="#25B24D" stroke="#000" stroke-width="1.0" stroke-opacity="0.55"/>
<rect x="274.40" y="659.80" width="25.4" height="1.90" fill="#156342"/>
<rect x="274.40" y="661.70" width="25.4" height="4.70" fill="#28B7A3" stroke="#000" stroke-width="1.0" stroke-opacity="0.55"/>
<rect x="274.40" y="666.40" width="25.4" height="4.80" fill="#1CB6C7" stroke="#000" stroke-width="1.0" stroke-opacity="0.55"/>
<rect x="274.40" y="671.20" width="25.4" height="6.70" fill="#18B2DD" stroke="#000" stroke-width="1.0" stroke-opacity="0.55"/>
<rect x="274.40" y="677.90" width="25.4" height="3.80" fill="#1B5B78"/>
<rect x="274.40" y="681.70" width="25.4" height="7.60" fill="#4A9AD6" stroke="#000" stroke-width="1.0" stroke-opacity="0.55"/>
<rect x="274.40" y="689.30" width="25.4" height="7.60" fill="#6C91CF" stroke="#000" stroke-width="1.0" stroke-opacity="0.55"/>
<rect x="274.40" y="696.90" width="25.4" height="8.60" fill="#7E8CCC" stroke="#000" stroke-width="1.0" stroke-opacity="0.55"/>
<rect x="274.40" y="705.50" width="25.4" height="8.50" fill="#9384C4" stroke="#000" stroke-width="1.0" stroke-opacity="0.55"/>
<rect x="274.40" y="714.00" width="25.4" height="4.80" fill="#9C80C0" stroke="#000" stroke-width="1.0" stroke-opacity="0.55"/>
<rect x="274.40" y="718.80" width="25.4" height="36.20" fill="#B678B4" stroke="#000" stroke-width="1.0" stroke-opacity="0.55"/>
<rect x="274.40" y="755.00" width="25.4" height="2.90" fill="#703C5E"/>
<rect x="274.40" y="757.90" width="25.4" height="5.10" fill="#E163A2" stroke="#000" stroke-width="1.0" stroke-opacity="0.55"/>
<rect x="274.40" y="763.00" width="25.4" height="5.00" fill="#EC62A0" stroke="#000" stroke-width="1.0" stroke-opacity="0.55"/>
<rect x="274.40" y="768.00" width="25.4" height="5.80" fill="#EC6892" stroke="#000" stroke-width="1.0" stroke-opacity="0.55"/>
<line x1="287.50" y1="774.5" x2="287.50" y2="778.3" stroke="#4a4a4a" stroke-width="1.1"/>
<text transform="translate(289.70,790.70) rotate(-45)" font-size="14.5" text-anchor="middle" dominant-baseline="central">25</text>
<rect x="302.90" y="310.20" width="25.4" height="22.40" fill="#EE6E6B" stroke="#000" stroke-width="1.0" stroke-opacity="0.55"/>
<rect x="302.90" y="332.60" width="25.4" height="9.90" fill="#F27A5A" stroke="#000" stroke-width="1.0" stroke-opacity="0.55"/>
<rect x="302.90" y="342.50" width="25.4" height="2.50" fill="#804723"/>
<rect x="302.90" y="345.00" width="25.4" height="24.80" fill="#E08925" stroke="#000" stroke-width="1.0" stroke-opacity="0.55"/>
<rect x="302.90" y="369.80" width="25.4" height="6.60" fill="#D0952D" stroke="#000" stroke-width="1.0" stroke-opacity="0.55"/>
<rect x="302.90" y="376.40" width="25.4" height="210.30" fill="#C39A35" stroke="#000" stroke-width="1.0" stroke-opacity="0.55"/>
<rect x="302.90" y="586.70" width="25.4" height="2.80" fill="#61591F"/>
<rect x="302.90" y="589.50" width="25.4" height="46.50" fill="#9DA83A" stroke="#000" stroke-width="1.0" stroke-opacity="0.55"/>
<rect x="302.90" y="636.00" width="25.4" height="9.50" fill="#92A83C" stroke="#000" stroke-width="1.0" stroke-opacity="0.55"/>
<rect x="302.90" y="645.50" width="25.4" height="20.00" fill="#72AF44" stroke="#000" stroke-width="1.0" stroke-opacity="0.55"/>
<rect x="302.90" y="665.50" width="25.4" height="2.00" fill="#2A6128"/>
<rect x="302.90" y="667.50" width="25.4" height="4.60" fill="#25B24D" stroke="#000" stroke-width="1.0" stroke-opacity="0.55"/>
<rect x="302.90" y="672.10" width="25.4" height="4.80" fill="#28B7A3" stroke="#000" stroke-width="1.0" stroke-opacity="0.55"/>
<rect x="302.90" y="676.90" width="25.4" height="4.80" fill="#1CB6C7" stroke="#000" stroke-width="1.0" stroke-opacity="0.55"/>
<rect x="302.90" y="681.70" width="25.4" height="8.50" fill="#18B2DD" stroke="#000" stroke-width="1.0" stroke-opacity="0.55"/>
<rect x="302.90" y="690.20" width="25.4" height="10.50" fill="#4A9AD6" stroke="#000" stroke-width="1.0" stroke-opacity="0.55"/>
<rect x="302.90" y="700.70" width="25.4" height="10.50" fill="#6C91CF" stroke="#000" stroke-width="1.0" stroke-opacity="0.55"/>
<rect x="302.90" y="711.20" width="25.4" height="10.50" fill="#7E8CCC" stroke="#000" stroke-width="1.0" stroke-opacity="0.55"/>
<rect x="302.90" y="721.70" width="25.4" height="7.60" fill="#9384C4" stroke="#000" stroke-width="1.0" stroke-opacity="0.55"/>
<rect x="302.90" y="729.30" width="25.4" height="1.90" fill="#5A4567"/>
<rect x="302.90" y="731.20" width="25.4" height="14.30" fill="#B678B4" stroke="#000" stroke-width="1.0" stroke-opacity="0.55"/>
<rect x="302.90" y="745.50" width="25.4" height="1.90" fill="#703C5E"/>
<rect x="302.90" y="747.40" width="25.4" height="4.70" fill="#E163A2" stroke="#000" stroke-width="1.0" stroke-opacity="0.55"/>
<rect x="302.90" y="752.10" width="25.4" height="17.20" fill="#EC62A0" stroke="#000" stroke-width="1.0" stroke-opacity="0.55"/>
<rect x="302.90" y="769.30" width="25.4" height="4.50" fill="#EC6892" stroke="#000" stroke-width="1.0" stroke-opacity="0.55"/>
<line x1="316.00" y1="774.5" x2="316.00" y2="778.3" stroke="#4a4a4a" stroke-width="1.1"/>
<text transform="translate(318.20,790.70) rotate(-45)" font-size="14.5" text-anchor="middle" dominant-baseline="central">20</text>
<rect x="331.40" y="310.20" width="25.4" height="28.10" fill="#EE6E6B" stroke="#000" stroke-width="1.0" stroke-opacity="0.55"/>
<rect x="331.40" y="338.30" width="25.4" height="15.30" fill="#F27A5A" stroke="#000" stroke-width="1.0" stroke-opacity="0.55"/>
<rect x="331.40" y="353.60" width="25.4" height="1.90" fill="#83432C"/>
<rect x="331.40" y="355.50" width="25.4" height="4.70" fill="#EB7B45" stroke="#000" stroke-width="1.0" stroke-opacity="0.55"/>
<rect x="331.40" y="360.20" width="25.4" height="23.80" fill="#E08925" stroke="#000" stroke-width="1.0" stroke-opacity="0.55"/>
<rect x="331.40" y="384.00" width="25.4" height="6.70" fill="#D0952D" stroke="#000" stroke-width="1.0" stroke-opacity="0.55"/>
<rect x="331.40" y="390.70" width="25.4" height="7.60" fill="#C19833" stroke="#000" stroke-width="1.0" stroke-opacity="0.55"/>
<rect x="331.40" y="398.30" width="25.4" height="10.50" fill="#AE9F35" stroke="#000" stroke-width="1.0" stroke-opacity="0.55"/>
<rect x="331.40" y="408.80" width="25.4" height="1.70" fill="#5B5A1F"/>
<rect x="331.40" y="410.50" width="25.4" height="65.70" fill="#9DA83A" stroke="#000" stroke-width="1.0" stroke-opacity="0.55"/>
<rect x="331.40" y="476.20" width="25.4" height="6.30" fill="#92A83C" stroke="#000" stroke-width="1.0" stroke-opacity="0.55"/>
<rect x="331.40" y="482.50" width="25.4" height="18.50" fill="#72AF44" stroke="#000" stroke-width="1.0" stroke-opacity="0.55"/>
<rect x="331.40" y="501.00" width="25.4" height="4.00" fill="#3FB34B" stroke="#000" stroke-width="1.0" stroke-opacity="0.55"/>
<rect x="331.40" y="505.00" width="25.4" height="3.60" fill="#1C6441"/>
<rect x="331.40" y="508.60" width="25.4" height="10.40" fill="#28B7A3" stroke="#000" stroke-width="1.0" stroke-opacity="0.55"/>
<rect x="331.40" y="519.00" width="25.4" height="9.60" fill="#1CB6C7" stroke="#000" stroke-width="1.0" stroke-opacity="0.55"/>
<rect x="331.40" y="528.60" width="25.4" height="100.70" fill="#18B2DD" stroke="#000" stroke-width="1.0" stroke-opacity="0.55"/>
<rect x="331.40" y="629.30" width="25.4" height="1.90" fill="#1B5B78"/>
<rect x="331.40" y="631.20" width="25.4" height="13.30" fill="#4A9AD6" stroke="#000" stroke-width="1.0" stroke-opacity="0.55"/>
<rect x="331.40" y="644.50" width="25.4" height="12.40" fill="#6C91CF" stroke="#000" stroke-width="1.0" stroke-opacity="0.55"/>
<rect x="331.40" y="656.90" width="25.4" height="11.40" fill="#7E8CCC" stroke="#000" stroke-width="1.0" stroke-opacity="0.55"/>
<rect x="331.40" y="668.30" width="25.4" height="14.30" fill="#9384C4" stroke="#000" stroke-width="1.0" stroke-opacity="0.55"/>
<rect x="331.40" y="682.60" width="25.4" height="8.60" fill="#9C80C0" stroke="#000" stroke-width="1.0" stroke-opacity="0.55"/>
<rect x="331.40" y="691.20" width="25.4" height="7.60" fill="#A77BBB" stroke="#000" stroke-width="1.0" stroke-opacity="0.55"/>
<rect x="331.40" y="698.80" width="25.4" height="20.00" fill="#B678B4" stroke="#000" stroke-width="1.0" stroke-opacity="0.55"/>
<rect x="331.40" y="718.80" width="25.4" height="8.60" fill="#D269AA" stroke="#000" stroke-width="1.0" stroke-opacity="0.55"/>
<rect x="331.40" y="727.40" width="25.4" height="1.90" fill="#7B385B"/>
<rect x="331.40" y="729.30" width="25.4" height="28.60" fill="#EC62A0" stroke="#000" stroke-width="1.0" stroke-opacity="0.55"/>
<rect x="331.40" y="757.90" width="25.4" height="15.90" fill="#EC6892" stroke="#000" stroke-width="1.0" stroke-opacity="0.55"/>
<line x1="344.50" y1="774.5" x2="344.50" y2="778.3" stroke="#4a4a4a" stroke-width="1.1"/>
<text transform="translate(346.70,790.70) rotate(-45)" font-size="14.5" text-anchor="middle" dominant-baseline="central">14</text>
<rect x="359.90" y="310.20" width="25.4" height="35.40" fill="#EE6E6B" stroke="#000" stroke-width="1.0" stroke-opacity="0.55"/>
<rect x="359.90" y="345.60" width="25.4" height="26.10" fill="#F27A5A" stroke="#000" stroke-width="1.0" stroke-opacity="0.55"/>
<rect x="359.90" y="371.70" width="25.4" height="1.10" fill="#83432C"/>
<rect x="359.90" y="372.80" width="25.4" height="1.70" fill="#EB7B45" stroke="#000" stroke-width="1.0" stroke-opacity="0.55"/>
<rect x="359.90" y="374.50" width="25.4" height="12.80" fill="#E6822B" stroke="#000" stroke-width="1.0" stroke-opacity="0.55"/>
<rect x="359.90" y="387.30" width="25.4" height="46.30" fill="#E08925" stroke="#000" stroke-width="1.0" stroke-opacity="0.55"/>
<rect x="359.90" y="433.60" width="25.4" height="5.70" fill="#D0952D" stroke="#000" stroke-width="1.0" stroke-opacity="0.55"/>
<rect x="359.90" y="439.30" width="25.4" height="11.40" fill="#C39A35" stroke="#000" stroke-width="1.0" stroke-opacity="0.55"/>
<rect x="359.90" y="450.70" width="25.4" height="1.30" fill="#64571D"/>
<rect x="359.90" y="452.00" width="25.4" height="18.50" fill="#A8A136" stroke="#000" stroke-width="1.0" stroke-opacity="0.55"/>
<rect x="359.90" y="470.50" width="25.4" height="57.50" fill="#9DA83A" stroke="#000" stroke-width="1.0" stroke-opacity="0.55"/>
<rect x="359.90" y="528.00" width="25.4" height="20.50" fill="#92A83C" stroke="#000" stroke-width="1.0" stroke-opacity="0.55"/>
<rect x="359.90" y="548.50" width="25.4" height="1.70" fill="#485E23"/>
<rect x="359.90" y="550.20" width="25.4" height="19.70" fill="#72AF44" stroke="#000" stroke-width="1.0" stroke-opacity="0.55"/>
<rect x="359.90" y="569.90" width="25.4" height="1.60" fill="#3A6126"/>
<rect x="359.90" y="571.50" width="25.4" height="2.00" fill="#60B148" stroke="#000" stroke-width="1.0" stroke-opacity="0.55"/>
<rect x="359.90" y="573.50" width="25.4" height="1.70" fill="#356128"/>
<rect x="359.90" y="575.20" width="25.4" height="3.00" fill="#60B148" stroke="#000" stroke-width="1.0" stroke-opacity="0.55"/>
<rect x="359.90" y="578.20" width="25.4" height="1.20" fill="#276232"/>
<rect x="359.90" y="579.40" width="25.4" height="3.60" fill="#2EB56E" stroke="#000" stroke-width="1.0" stroke-opacity="0.55"/>
<rect x="359.90" y="583.00" width="25.4" height="3.50" fill="#18644B"/>
<rect x="359.90" y="586.50" width="25.4" height="5.50" fill="#28B7A3" stroke="#000" stroke-width="1.0" stroke-opacity="0.55"/>
<rect x="359.90" y="592.00" width="25.4" height="1.00" fill="#146561"/>
<rect x="359.90" y="593.00" width="25.4" height="4.00" fill="#1FB7BC" stroke="#000" stroke-width="1.0" stroke-opacity="0.55"/>
<rect x="359.90" y="597.00" width="25.4" height="1.50" fill="#10646D"/>
<rect x="359.90" y="598.50" width="25.4" height="4.70" fill="#1AB4D2" stroke="#000" stroke-width="1.0" stroke-opacity="0.55"/>
<rect x="359.90" y="603.20" width="25.4" height="1.80" fill="#116177"/>
<rect x="359.90" y="605.00" width="25.4" height="12.50" fill="#25ACE0" stroke="#000" stroke-width="1.0" stroke-opacity="0.55"/>
<rect x="359.90" y="617.50" width="25.4" height="3.00" fill="#1F5A78"/>
<rect x="359.90" y="620.50" width="25.4" height="65.00" fill="#4A9AD6" stroke="#000" stroke-width="1.0" stroke-opacity="0.55"/>
<rect x="359.90" y="685.50" width="25.4" height="11.40" fill="#6C91CF" stroke="#000" stroke-width="1.0" stroke-opacity="0.55"/>
<rect x="359.90" y="696.90" width="25.4" height="6.70" fill="#7E8CCC" stroke="#000" stroke-width="1.0" stroke-opacity="0.55"/>
<rect x="359.90" y="703.60" width="25.4" height="11.40" fill="#9384C4" stroke="#000" stroke-width="1.0" stroke-opacity="0.55"/>
<rect x="359.90" y="715.00" width="25.4" height="1.00" fill="#53486B"/>
<rect x="359.90" y="716.00" width="25.4" height="2.80" fill="#9C80C0" stroke="#000" stroke-width="1.0" stroke-opacity="0.55"/>
<rect x="359.90" y="718.80" width="25.4" height="21.90" fill="#B678B4" stroke="#000" stroke-width="1.0" stroke-opacity="0.55"/>
<rect x="359.90" y="740.70" width="25.4" height="1.80" fill="#6C3E60"/>
<rect x="359.90" y="742.50" width="25.4" height="4.00" fill="#D269AA" stroke="#000" stroke-width="1.0" stroke-opacity="0.55"/>
<rect x="359.90" y="746.50" width="25.4" height="2.80" fill="#7B385B"/>
<rect x="359.90" y="749.30" width="25.4" height="11.40" fill="#EC62A0" stroke="#000" stroke-width="1.0" stroke-opacity="0.55"/>
<rect x="359.90" y="760.70" width="25.4" height="4.80" fill="#EA6499" stroke="#000" stroke-width="1.0" stroke-opacity="0.55"/>
<rect x="359.90" y="765.50" width="25.4" height="8.30" fill="#EC6892" stroke="#000" stroke-width="1.0" stroke-opacity="0.55"/>
<line x1="373.00" y1="774.5" x2="373.00" y2="778.3" stroke="#4a4a4a" stroke-width="1.1"/>
<text transform="translate(374.90,788.40) rotate(-45)" font-size="14.5" text-anchor="middle" dominant-baseline="central">2</text>
<rect x="388.40" y="310.20" width="25.4" height="19.90" fill="#EE6E6B" stroke="#000" stroke-width="1.0" stroke-opacity="0.55"/>
<rect x="388.40" y="330.10" width="25.4" height="5.40" fill="#F27A5A" stroke="#000" stroke-width="1.0" stroke-opacity="0.55"/>
<rect x="388.40" y="335.50" width="25.4" height="1.90" fill="#824525"/>
<rect x="388.40" y="337.40" width="25.4" height="2.80" fill="#E6822B" stroke="#000" stroke-width="1.0" stroke-opacity="0.55"/>
<rect x="388.40" y="340.20" width="25.4" height="18.10" fill="#E08925" stroke="#000" stroke-width="1.0" stroke-opacity="0.55"/>
<rect x="388.40" y="358.30" width="25.4" height="5.70" fill="#D0952D" stroke="#000" stroke-width="1.0" stroke-opacity="0.55"/>
<rect x="388.40" y="364.00" width="25.4" height="5.80" fill="#C39A35" stroke="#000" stroke-width="1.0" stroke-opacity="0.55"/>
<rect x="388.40" y="369.80" width="25.4" height="1.20" fill="#61591F"/>
<rect x="388.40" y="371.00" width="25.4" height="36.90" fill="#9DA83A" stroke="#000" stroke-width="1.0" stroke-opacity="0.55"/>
<rect x="388.40" y="407.90" width="25.4" height="2.80" fill="#92A83C" stroke="#000" stroke-width="1.0" stroke-opacity="0.55"/>
<rect x="388.40" y="410.70" width="25.4" height="16.20" fill="#72AF44" stroke="#000" stroke-width="1.0" stroke-opacity="0.55"/>
<rect x="388.40" y="426.90" width="25.4" height="2.10" fill="#2A6128"/>
<rect x="388.40" y="429.00" width="25.4" height="2.70" fill="#25B24D" stroke="#000" stroke-width="1.0" stroke-opacity="0.55"/>
<rect x="388.40" y="431.70" width="25.4" height="4.70" fill="#28B7A3" stroke="#000" stroke-width="1.0" stroke-opacity="0.55"/>
<rect x="388.40" y="436.40" width="25.4" height="4.60" fill="#1FB7BC" stroke="#000" stroke-width="1.0" stroke-opacity="0.55"/>
<rect x="388.40" y="441.00" width="25.4" height="3.00" fill="#1AB4D2" stroke="#000" stroke-width="1.0" stroke-opacity="0.55"/>
<rect x="388.40" y="444.00" width="25.4" height="3.90" fill="#18B2DD" stroke="#000" stroke-width="1.0" stroke-opacity="0.55"/>
<rect x="388.40" y="447.90" width="25.4" height="8.50" fill="#4A9AD6" stroke="#000" stroke-width="1.0" stroke-opacity="0.55"/>
<rect x="388.40" y="456.40" width="25.4" height="6.50" fill="#6C91CF" stroke="#000" stroke-width="1.0" stroke-opacity="0.55"/>
<rect x="388.40" y="462.90" width="25.4" height="0.90" fill="#404E71"/>
<rect x="388.40" y="463.80" width="25.4" height="275.00" fill="#7E8CCC" stroke="#000" stroke-width="1.0" stroke-opacity="0.55"/>
<rect x="388.40" y="738.80" width="25.4" height="1.00" fill="#4B4B6E"/>
<rect x="388.40" y="739.80" width="25.4" height="4.70" fill="#9384C4" stroke="#000" stroke-width="1.0" stroke-opacity="0.55"/>
<rect x="388.40" y="744.50" width="25.4" height="1.90" fill="#5A4567"/>
<rect x="388.40" y="746.40" width="25.4" height="12.40" fill="#B678B4" stroke="#000" stroke-width="1.0" stroke-opacity="0.55"/>
<rect x="388.40" y="758.80" width="25.4" height="1.90" fill="#733C5E"/>
<rect x="388.40" y="760.70" width="25.4" height="5.30" fill="#EC62A0" stroke="#000" stroke-width="1.0" stroke-opacity="0.55"/>
<rect x="388.40" y="766.00" width="25.4" height="4.00" fill="#EC6892" stroke="#000" stroke-width="1.0" stroke-opacity="0.55"/>
<rect x="388.40" y="770.00" width="25.4" height="3.80" fill="#EC6B8A" stroke="#000" stroke-width="1.0" stroke-opacity="0.55"/>
<line x1="401.50" y1="774.5" x2="401.50" y2="778.3" stroke="#4a4a4a" stroke-width="1.1"/>
<text transform="translate(403.40,788.40) rotate(-45)" font-size="14.5" text-anchor="middle" dominant-baseline="central">9</text>
<rect x="416.90" y="310.20" width="25.4" height="14.80" fill="#EE6E6B" stroke="#000" stroke-width="1.0" stroke-opacity="0.55"/>
<rect x="416.90" y="325.00" width="25.4" height="35.20" fill="#F27A5A" stroke="#000" stroke-width="1.0" stroke-opacity="0.55"/>
<rect x="416.90" y="360.20" width="25.4" height="6.70" fill="#E6822B" stroke="#000" stroke-width="1.0" stroke-opacity="0.55"/>
<rect x="416.90" y="366.90" width="25.4" height="18.10" fill="#E08925" stroke="#000" stroke-width="1.0" stroke-opacity="0.55"/>
<rect x="416.90" y="385.00" width="25.4" height="4.80" fill="#D0952D" stroke="#000" stroke-width="1.0" stroke-opacity="0.55"/>
<rect x="416.90" y="389.80" width="25.4" height="6.60" fill="#C19833" stroke="#000" stroke-width="1.0" stroke-opacity="0.55"/>
<rect x="416.90" y="396.40" width="25.4" height="1.00" fill="#60581E"/>
<rect x="416.90" y="397.40" width="25.4" height="27.60" fill="#9DA83A" stroke="#000" stroke-width="1.0" stroke-opacity="0.55"/>
<rect x="416.90" y="425.00" width="25.4" height="9.50" fill="#92A83C" stroke="#000" stroke-width="1.0" stroke-opacity="0.55"/>
<rect x="416.90" y="434.50" width="25.4" height="37.90" fill="#72AF44" stroke="#000" stroke-width="1.0" stroke-opacity="0.55"/>
<rect x="416.90" y="472.40" width="25.4" height="2.60" fill="#316127"/>
<rect x="416.90" y="475.00" width="25.4" height="3.00" fill="#3FB34B" stroke="#000" stroke-width="1.0" stroke-opacity="0.55"/>
<rect x="416.90" y="478.00" width="25.4" height="3.00" fill="#1C6441"/>
<rect x="416.90" y="481.00" width="25.4" height="13.30" fill="#28B7A3" stroke="#000" stroke-width="1.0" stroke-opacity="0.55"/>
<rect x="416.90" y="494.30" width="25.4" height="5.70" fill="#1FB7BC" stroke="#000" stroke-width="1.0" stroke-opacity="0.55"/>
<rect x="416.90" y="500.00" width="25.4" height="5.00" fill="#1CB6C7" stroke="#000" stroke-width="1.0" stroke-opacity="0.55"/>
<rect x="416.90" y="505.00" width="25.4" height="5.00" fill="#1AB4D2" stroke="#000" stroke-width="1.0" stroke-opacity="0.55"/>
<rect x="416.90" y="510.00" width="25.4" height="6.20" fill="#18B2DD" stroke="#000" stroke-width="1.0" stroke-opacity="0.55"/>
<rect x="416.90" y="516.20" width="25.4" height="15.20" fill="#4A9AD6" stroke="#000" stroke-width="1.0" stroke-opacity="0.55"/>
<rect x="416.90" y="531.40" width="25.4" height="9.60" fill="#6C91CF" stroke="#000" stroke-width="1.0" stroke-opacity="0.55"/>
<rect x="416.90" y="541.00" width="25.4" height="10.40" fill="#7E8CCC" stroke="#000" stroke-width="1.0" stroke-opacity="0.55"/>
<rect x="416.90" y="551.40" width="25.4" height="10.50" fill="#9384C4" stroke="#000" stroke-width="1.0" stroke-opacity="0.55"/>
<rect x="416.90" y="561.90" width="25.4" height="4.10" fill="#9C80C0" stroke="#000" stroke-width="1.0" stroke-opacity="0.55"/>
<rect x="416.90" y="566.00" width="25.4" height="4.00" fill="#A77BBB" stroke="#000" stroke-width="1.0" stroke-opacity="0.55"/>
<rect x="416.90" y="570.00" width="25.4" height="4.30" fill="#B974B2" stroke="#000" stroke-width="1.0" stroke-opacity="0.55"/>
<rect x="416.90" y="574.30" width="25.4" height="1.70" fill="#6F3C5F"/>
<rect x="416.90" y="576.00" width="25.4" height="3.00" fill="#DA66A6" stroke="#000" stroke-width="1.0" stroke-opacity="0.55"/>
<rect x="416.90" y="579.00" width="25.4" height="187.40" fill="#EC62A0" stroke="#000" stroke-width="1.0" stroke-opacity="0.55"/>
<rect x="416.90" y="766.40" width="25.4" height="1.00" fill="#823854"/>
<rect x="416.90" y="767.40" width="25.4" height="6.40" fill="#EC6892" stroke="#000" stroke-width="1.0" stroke-opacity="0.55"/>
<line x1="430.00" y1="774.5" x2="430.00" y2="778.3" stroke="#4a4a4a" stroke-width="1.1"/>
<text transform="translate(432.20,790.70) rotate(-45)" font-size="14.5" text-anchor="middle" dominant-baseline="central">31</text>
<rect x="445.40" y="310.20" width="25.4" height="41.50" fill="#EE6E6B" stroke="#000" stroke-width="1.0" stroke-opacity="0.55"/>
<rect x="445.40" y="351.70" width="25.4" height="35.60" fill="#F27A5A" stroke="#000" stroke-width="1.0" stroke-opacity="0.55"/>
<rect x="445.40" y="387.30" width="25.4" height="1.70" fill="#83432C"/>
<rect x="445.40" y="389.00" width="25.4" height="1.70" fill="#EB7B45" stroke="#000" stroke-width="1.0" stroke-opacity="0.55"/>
<rect x="445.40" y="390.70" width="25.4" height="45.70" fill="#E08925" stroke="#000" stroke-width="1.0" stroke-opacity="0.55"/>
<rect x="445.40" y="436.40" width="25.4" height="5.70" fill="#D0952D" stroke="#000" stroke-width="1.0" stroke-opacity="0.55"/>
<rect x="445.40" y="442.10" width="25.4" height="2.40" fill="#C19833" stroke="#000" stroke-width="1.0" stroke-opacity="0.55"/>
<rect x="445.40" y="444.50" width="25.4" height="2.40" fill="#AE9F35" stroke="#000" stroke-width="1.0" stroke-opacity="0.55"/>
<rect x="445.40" y="446.90" width="25.4" height="71.20" fill="#9DA83A" stroke="#000" stroke-width="1.0" stroke-opacity="0.55"/>
<rect x="445.40" y="518.10" width="25.4" height="11.40" fill="#92A83C" stroke="#000" stroke-width="1.0" stroke-opacity="0.55"/>
<rect x="445.40" y="529.50" width="25.4" height="23.80" fill="#72AF44" stroke="#000" stroke-width="1.0" stroke-opacity="0.55"/>
<rect x="445.40" y="553.30" width="25.4" height="2.70" fill="#2A6128"/>
<rect x="445.40" y="556.00" width="25.4" height="3.00" fill="#25B24D" stroke="#000" stroke-width="1.0" stroke-opacity="0.55"/>
<rect x="445.40" y="559.00" width="25.4" height="2.90" fill="#156342"/>
<rect x="445.40" y="561.90" width="25.4" height="5.70" fill="#28B7A3" stroke="#000" stroke-width="1.0" stroke-opacity="0.55"/>
<rect x="445.40" y="567.60" width="25.4" height="4.40" fill="#1FB7BC" stroke="#000" stroke-width="1.0" stroke-opacity="0.55"/>
<rect x="445.40" y="572.00" width="25.4" height="5.00" fill="#1AB4D2" stroke="#000" stroke-width="1.0" stroke-opacity="0.55"/>
<rect x="445.40" y="577.00" width="25.4" height="4.90" fill="#18B2DD" stroke="#000" stroke-width="1.0" stroke-opacity="0.55"/>
<rect x="445.40" y="581.90" width="25.4" height="14.30" fill="#35A6DF" stroke="#000" stroke-width="1.0" stroke-opacity="0.55"/>
<rect x="445.40" y="596.20" width="25.4" height="0.90" fill="#235878"/>
<rect x="445.40" y="597.10" width="25.4" height="9.60" fill="#4A9AD6" stroke="#000" stroke-width="1.0" stroke-opacity="0.55"/>
<rect x="445.40" y="606.70" width="25.4" height="0.90" fill="#325274"/>
<rect x="445.40" y="607.60" width="25.4" height="11.20" fill="#6C91CF" stroke="#000" stroke-width="1.0" stroke-opacity="0.55"/>
<rect x="445.40" y="618.80" width="25.4" height="6.70" fill="#8889C9" stroke="#000" stroke-width="1.0" stroke-opacity="0.55"/>
<rect x="445.40" y="625.50" width="25.4" height="11.40" fill="#9384C4" stroke="#000" stroke-width="1.0" stroke-opacity="0.55"/>
<rect x="445.40" y="636.90" width="25.4" height="1.90" fill="#5A4567"/>
<rect x="445.40" y="638.80" width="25.4" height="28.60" fill="#B678B4" stroke="#000" stroke-width="1.0" stroke-opacity="0.55"/>
<rect x="445.40" y="667.40" width="25.4" height="3.80" fill="#733C5E"/>
<rect x="445.40" y="671.20" width="25.4" height="96.20" fill="#EC62A0" stroke="#000" stroke-width="1.0" stroke-opacity="0.55"/>
<rect x="445.40" y="767.40" width="25.4" height="6.40" fill="#EC6892" stroke="#000" stroke-width="1.0" stroke-opacity="0.55"/>
<line x1="458.50" y1="774.5" x2="458.50" y2="778.3" stroke="#4a4a4a" stroke-width="1.1"/>
<text transform="translate(460.70,790.70) rotate(-45)" font-size="14.5" text-anchor="middle" dominant-baseline="central">24</text>
<rect x="473.90" y="310.20" width="25.4" height="35.80" fill="#EE6E6B" stroke="#000" stroke-width="1.0" stroke-opacity="0.55"/>
<rect x="473.90" y="346.00" width="25.4" height="4.70" fill="#F27A5A" stroke="#000" stroke-width="1.0" stroke-opacity="0.55"/>
<rect x="473.90" y="350.70" width="25.4" height="0.80" fill="#824525"/>
<rect x="473.90" y="351.50" width="25.4" height="2.60" fill="#E6822B" stroke="#000" stroke-width="1.0" stroke-opacity="0.55"/>
<rect x="473.90" y="354.10" width="25.4" height="26.10" fill="#E08925" stroke="#000" stroke-width="1.0" stroke-opacity="0.55"/>
<rect x="473.90" y="380.20" width="25.4" height="3.80" fill="#D0952D" stroke="#000" stroke-width="1.0" stroke-opacity="0.55"/>
<rect x="473.90" y="384.00" width="25.4" height="11.50" fill="#C39A35" stroke="#000" stroke-width="1.0" stroke-opacity="0.55"/>
<rect x="473.90" y="395.50" width="25.4" height="1.00" fill="#61591F"/>
<rect x="473.90" y="396.50" width="25.4" height="78.70" fill="#9DA83A" stroke="#000" stroke-width="1.0" stroke-opacity="0.55"/>
<rect x="473.90" y="475.20" width="25.4" height="3.80" fill="#535C20"/>
<rect x="473.90" y="479.00" width="25.4" height="18.10" fill="#92A83C" stroke="#000" stroke-width="1.0" stroke-opacity="0.55"/>
<rect x="473.90" y="497.10" width="25.4" height="4.90" fill="#72AF44" stroke="#000" stroke-width="1.0" stroke-opacity="0.55"/>
<rect x="473.90" y="502.00" width="25.4" height="2.00" fill="#2A6128"/>
<rect x="473.90" y="504.00" width="25.4" height="2.70" fill="#25B24D" stroke="#000" stroke-width="1.0" stroke-opacity="0.55"/>
<rect x="473.90" y="506.70" width="25.4" height="4.70" fill="#28B7A3" stroke="#000" stroke-width="1.0" stroke-opacity="0.55"/>
<rect x="473.90" y="511.40" width="25.4" height="4.60" fill="#1CB6C7" stroke="#000" stroke-width="1.0" stroke-opacity="0.55"/>
<rect x="473.90" y="516.00" width="25.4" height="5.00" fill="#18B2DD" stroke="#000" stroke-width="1.0" stroke-opacity="0.55"/>
<rect x="473.90" y="521.00" width="25.4" height="0.90" fill="#1B5B78"/>
<rect x="473.90" y="521.90" width="25.4" height="14.30" fill="#4A9AD6" stroke="#000" stroke-width="1.0" stroke-opacity="0.55"/>
<rect x="473.90" y="536.20" width="25.4" height="0.90" fill="#325274"/>
<rect x="473.90" y="537.10" width="25.4" height="159.80" fill="#6C91CF" stroke="#000" stroke-width="1.0" stroke-opacity="0.55"/>
<rect x="473.90" y="696.90" width="25.4" height="1.00" fill="#404E71"/>
<rect x="473.90" y="697.90" width="25.4" height="7.60" fill="#7E8CCC" stroke="#000" stroke-width="1.0" stroke-opacity="0.55"/>
<rect x="473.90" y="705.50" width="25.4" height="15.20" fill="#9384C4" stroke="#000" stroke-width="1.0" stroke-opacity="0.55"/>
<rect x="473.90" y="720.70" width="25.4" height="1.90" fill="#5A4567"/>
<rect x="473.90" y="722.60" width="25.4" height="25.70" fill="#B678B4" stroke="#000" stroke-width="1.0" stroke-opacity="0.55"/>
<rect x="473.90" y="748.30" width="25.4" height="1.90" fill="#733C5E"/>
<rect x="473.90" y="750.20" width="25.4" height="13.80" fill="#EC62A0" stroke="#000" stroke-width="1.0" stroke-opacity="0.55"/>
<rect x="473.90" y="764.00" width="25.4" height="9.80" fill="#EC6892" stroke="#000" stroke-width="1.0" stroke-opacity="0.55"/>
<line x1="487.00" y1="774.5" x2="487.00" y2="778.3" stroke="#4a4a4a" stroke-width="1.1"/>
<text transform="translate(489.20,790.70) rotate(-45)" font-size="14.5" text-anchor="middle" dominant-baseline="central">15</text>
<rect x="502.40" y="310.20" width="25.4" height="31.00" fill="#EE6E6B" stroke="#000" stroke-width="1.0" stroke-opacity="0.55"/>
<rect x="502.40" y="341.20" width="25.4" height="4.20" fill="#F27A5A" stroke="#000" stroke-width="1.0" stroke-opacity="0.55"/>
<rect x="502.40" y="345.40" width="25.4" height="35.80" fill="#E6822B" stroke="#000" stroke-width="1.0" stroke-opacity="0.55"/>
<rect x="502.40" y="381.20" width="25.4" height="6.50" fill="#E08925" stroke="#000" stroke-width="1.0" stroke-opacity="0.55"/>
<rect x="502.40" y="387.70" width="25.4" height="4.00" fill="#69541A"/>
<rect x="502.40" y="391.70" width="25.4" height="32.30" fill="#9DA83A" stroke="#000" stroke-width="1.0" stroke-opacity="0.55"/>
<rect x="502.40" y="424.00" width="25.4" height="6.70" fill="#92A83C" stroke="#000" stroke-width="1.0" stroke-opacity="0.55"/>
<rect x="502.40" y="430.70" width="25.4" height="12.40" fill="#72AF44" stroke="#000" stroke-width="1.0" stroke-opacity="0.55"/>
<rect x="502.40" y="443.10" width="25.4" height="2.90" fill="#316127"/>
<rect x="502.40" y="446.00" width="25.4" height="2.80" fill="#3FB34B" stroke="#000" stroke-width="1.0" stroke-opacity="0.55"/>
<rect x="502.40" y="448.80" width="25.4" height="202.40" fill="#25B24D" stroke="#000" stroke-width="1.0" stroke-opacity="0.55"/>
<rect x="502.40" y="651.20" width="25.4" height="0.90" fill="#176333"/>
<rect x="502.40" y="652.10" width="25.4" height="5.80" fill="#2EB56E" stroke="#000" stroke-width="1.0" stroke-opacity="0.55"/>
<rect x="502.40" y="657.90" width="25.4" height="2.80" fill="#18644B"/>
<rect x="502.40" y="660.70" width="25.4" height="10.50" fill="#28B7A3" stroke="#000" stroke-width="1.0" stroke-opacity="0.55"/>
<rect x="502.40" y="671.20" width="25.4" height="0.90" fill="#136464"/>
<rect x="502.40" y="672.10" width="25.4" height="4.90" fill="#1CB6C7" stroke="#000" stroke-width="1.0" stroke-opacity="0.55"/>
<rect x="502.40" y="677.00" width="25.4" height="5.60" fill="#18B2DD" stroke="#000" stroke-width="1.0" stroke-opacity="0.55"/>
<rect x="502.40" y="682.60" width="25.4" height="14.30" fill="#4A9AD6" stroke="#000" stroke-width="1.0" stroke-opacity="0.55"/>
<rect x="502.40" y="696.90" width="25.4" height="1.00" fill="#325274"/>
<rect x="502.40" y="697.90" width="25.4" height="9.50" fill="#6C91CF" stroke="#000" stroke-width="1.0" stroke-opacity="0.55"/>
<rect x="502.40" y="707.40" width="25.4" height="6.60" fill="#7E8CCC" stroke="#000" stroke-width="1.0" stroke-opacity="0.55"/>
<rect x="502.40" y="714.00" width="25.4" height="8.60" fill="#9384C4" stroke="#000" stroke-width="1.0" stroke-opacity="0.55"/>
<rect x="502.40" y="722.60" width="25.4" height="1.90" fill="#5A4567"/>
<rect x="502.40" y="724.50" width="25.4" height="20.00" fill="#B678B4" stroke="#000" stroke-width="1.0" stroke-opacity="0.55"/>
<rect x="502.40" y="744.50" width="25.4" height="2.00" fill="#6A3F60"/>
<rect x="502.40" y="746.50" width="25.4" height="2.50" fill="#CB6CAA" stroke="#000" stroke-width="1.0" stroke-opacity="0.55"/>
<rect x="502.40" y="749.00" width="25.4" height="2.20" fill="#79395B"/>
<rect x="502.40" y="751.20" width="25.4" height="14.80" fill="#EC62A0" stroke="#000" stroke-width="1.0" stroke-opacity="0.55"/>
<rect x="502.40" y="766.00" width="25.4" height="7.80" fill="#EC6892" stroke="#000" stroke-width="1.0" stroke-opacity="0.55"/>
<line x1="515.50" y1="774.5" x2="515.50" y2="778.3" stroke="#4a4a4a" stroke-width="1.1"/>
<text transform="translate(517.70,790.70) rotate(-45)" font-size="14.5" text-anchor="middle" dominant-baseline="central">17</text>
<rect x="530.90" y="310.20" width="25.4" height="10.00" fill="#EE6E6B" stroke="#000" stroke-width="1.0" stroke-opacity="0.55"/>
<rect x="530.90" y="320.20" width="25.4" height="8.60" fill="#F27A5A" stroke="#000" stroke-width="1.0" stroke-opacity="0.55"/>
<rect x="530.90" y="328.80" width="25.4" height="2.50" fill="#824525"/>
<rect x="530.90" y="331.30" width="25.4" height="21.30" fill="#E6822B" stroke="#000" stroke-width="1.0" stroke-opacity="0.55"/>
<rect x="530.90" y="352.60" width="25.4" height="24.80" fill="#E08925" stroke="#000" stroke-width="1.0" stroke-opacity="0.55"/>
<rect x="530.90" y="377.40" width="25.4" height="2.80" fill="#6C5219"/>
<rect x="530.90" y="380.20" width="25.4" height="14.30" fill="#A8A136" stroke="#000" stroke-width="1.0" stroke-opacity="0.55"/>
<rect x="530.90" y="394.50" width="25.4" height="11.50" fill="#9DA83A" stroke="#000" stroke-width="1.0" stroke-opacity="0.55"/>
<rect x="530.90" y="406.00" width="25.4" height="3.80" fill="#535C20"/>
<rect x="530.90" y="409.80" width="25.4" height="24.70" fill="#92A83C" stroke="#000" stroke-width="1.0" stroke-opacity="0.55"/>
<rect x="530.90" y="434.50" width="25.4" height="38.80" fill="#72AF44" stroke="#000" stroke-width="1.0" stroke-opacity="0.55"/>
<rect x="530.90" y="473.30" width="25.4" height="2.70" fill="#316127"/>
<rect x="530.90" y="476.00" width="25.4" height="4.00" fill="#3FB34B" stroke="#000" stroke-width="1.0" stroke-opacity="0.55"/>
<rect x="530.90" y="480.00" width="25.4" height="5.00" fill="#25B24D" stroke="#000" stroke-width="1.0" stroke-opacity="0.55"/>
<rect x="530.90" y="485.00" width="25.4" height="3.00" fill="#176333"/>
<rect x="530.90" y="488.00" width="25.4" height="4.40" fill="#2EB56E" stroke="#000" stroke-width="1.0" stroke-opacity="0.55"/>
<rect x="530.90" y="492.40" width="25.4" height="5.70" fill="#28B7A3" stroke="#000" stroke-width="1.0" stroke-opacity="0.55"/>
<rect x="530.90" y="498.10" width="25.4" height="4.90" fill="#1CB6C7" stroke="#000" stroke-width="1.0" stroke-opacity="0.55"/>
<rect x="530.90" y="503.00" width="25.4" height="5.60" fill="#18B2DD" stroke="#000" stroke-width="1.0" stroke-opacity="0.55"/>
<rect x="530.90" y="508.60" width="25.4" height="12.40" fill="#3FA0DB" stroke="#000" stroke-width="1.0" stroke-opacity="0.55"/>
<rect x="530.90" y="521.00" width="25.4" height="29.50" fill="#4A9AD6" stroke="#000" stroke-width="1.0" stroke-opacity="0.55"/>
<rect x="530.90" y="550.50" width="25.4" height="18.10" fill="#6C91CF" stroke="#000" stroke-width="1.0" stroke-opacity="0.55"/>
<rect x="530.90" y="568.60" width="25.4" height="3.80" fill="#464C6F"/>
<rect x="530.90" y="572.40" width="25.4" height="6.60" fill="#9384C4" stroke="#000" stroke-width="1.0" stroke-opacity="0.55"/>
<rect x="530.90" y="579.00" width="25.4" height="6.00" fill="#A77BBB" stroke="#000" stroke-width="1.0" stroke-opacity="0.55"/>
<rect x="530.90" y="585.00" width="25.4" height="5.00" fill="#B974B2" stroke="#000" stroke-width="1.0" stroke-opacity="0.55"/>
<rect x="530.90" y="590.00" width="25.4" height="4.00" fill="#CB6CAA" stroke="#000" stroke-width="1.0" stroke-opacity="0.55"/>
<rect x="530.90" y="594.00" width="25.4" height="4.10" fill="#79395B"/>
<rect x="530.90" y="598.10" width="25.4" height="159.80" fill="#EC62A0" stroke="#000" stroke-width="1.0" stroke-opacity="0.55"/>
<rect x="530.90" y="757.90" width="25.4" height="1.10" fill="#823854"/>
<rect x="530.90" y="759.00" width="25.4" height="8.00" fill="#EC6892" stroke="#000" stroke-width="1.0" stroke-opacity="0.55"/>
<rect x="530.90" y="767.00" width="25.4" height="6.80" fill="#EC6B8A" stroke="#000" stroke-width="1.0" stroke-opacity="0.55"/>
<line x1="544.00" y1="774.5" x2="544.00" y2="778.3" stroke="#4a4a4a" stroke-width="1.1"/>
<text transform="translate(546.20,790.70) rotate(-45)" font-size="14.5" text-anchor="middle" dominant-baseline="central">29</text>
<rect x="559.40" y="310.20" width="25.4" height="51.00" fill="#EE6E6B" stroke="#000" stroke-width="1.0" stroke-opacity="0.55"/>
<rect x="559.40" y="361.20" width="25.4" height="1.80" fill="#824030"/>
<rect x="559.40" y="363.00" width="25.4" height="3.00" fill="#EB7B45" stroke="#000" stroke-width="1.0" stroke-opacity="0.55"/>
<rect x="559.40" y="366.00" width="25.4" height="7.60" fill="#E6822B" stroke="#000" stroke-width="1.0" stroke-opacity="0.55"/>
<rect x="559.40" y="373.60" width="25.4" height="38.10" fill="#E08925" stroke="#000" stroke-width="1.0" stroke-opacity="0.55"/>
<rect x="559.40" y="411.70" width="25.4" height="2.80" fill="#735019"/>
<rect x="559.40" y="414.50" width="25.4" height="2.90" fill="#C39A35" stroke="#000" stroke-width="1.0" stroke-opacity="0.55"/>
<rect x="559.40" y="417.40" width="25.4" height="105.50" fill="#9DA83A" stroke="#000" stroke-width="1.0" stroke-opacity="0.55"/>
<rect x="559.40" y="522.90" width="25.4" height="3.80" fill="#535C20"/>
<rect x="559.40" y="526.70" width="25.4" height="11.40" fill="#92A83C" stroke="#000" stroke-width="1.0" stroke-opacity="0.55"/>
<rect x="559.40" y="538.10" width="25.4" height="3.80" fill="#72AF44" stroke="#000" stroke-width="1.0" stroke-opacity="0.55"/>
<rect x="559.40" y="541.90" width="25.4" height="5.70" fill="#2A6240"/>
<rect x="559.40" y="547.60" width="25.4" height="4.80" fill="#28B7A3" stroke="#000" stroke-width="1.0" stroke-opacity="0.55"/>
<rect x="559.40" y="552.40" width="25.4" height="19.00" fill="#1FB7BC" stroke="#000" stroke-width="1.0" stroke-opacity="0.55"/>
<rect x="559.40" y="571.40" width="25.4" height="36.20" fill="#18B2DD" stroke="#000" stroke-width="1.0" stroke-opacity="0.55"/>
<rect x="559.40" y="607.60" width="25.4" height="69.30" fill="#35A6DF" stroke="#000" stroke-width="1.0" stroke-opacity="0.55"/>
<rect x="559.40" y="676.90" width="25.4" height="7.60" fill="#4A9AD6" stroke="#000" stroke-width="1.0" stroke-opacity="0.55"/>
<rect x="559.40" y="684.50" width="25.4" height="10.50" fill="#6C91CF" stroke="#000" stroke-width="1.0" stroke-opacity="0.55"/>
<rect x="559.40" y="695.00" width="25.4" height="6.70" fill="#7E8CCC" stroke="#000" stroke-width="1.0" stroke-opacity="0.55"/>
<rect x="559.40" y="701.70" width="25.4" height="11.40" fill="#9384C4" stroke="#000" stroke-width="1.0" stroke-opacity="0.55"/>
<rect x="559.40" y="713.10" width="25.4" height="1.90" fill="#5A4567"/>
<rect x="559.40" y="715.00" width="25.4" height="35.20" fill="#B678B4" stroke="#000" stroke-width="1.0" stroke-opacity="0.55"/>
<rect x="559.40" y="750.20" width="25.4" height="2.90" fill="#733C5E"/>
<rect x="559.40" y="753.10" width="25.4" height="8.90" fill="#EC62A0" stroke="#000" stroke-width="1.0" stroke-opacity="0.55"/>
<rect x="559.40" y="762.00" width="25.4" height="5.00" fill="#EC6892" stroke="#000" stroke-width="1.0" stroke-opacity="0.55"/>
<rect x="559.40" y="767.00" width="25.4" height="6.80" fill="#EC6B8A" stroke="#000" stroke-width="1.0" stroke-opacity="0.55"/>
<line x1="572.50" y1="774.5" x2="572.50" y2="778.3" stroke="#4a4a4a" stroke-width="1.1"/>
<text transform="translate(574.40,788.40) rotate(-45)" font-size="14.5" text-anchor="middle" dominant-baseline="central">6</text>
<rect x="587.90" y="310.20" width="25.4" height="42.40" fill="#EE6E6B" stroke="#000" stroke-width="1.0" stroke-opacity="0.55"/>
<rect x="587.90" y="352.60" width="25.4" height="2.90" fill="#F27A5A" stroke="#000" stroke-width="1.0" stroke-opacity="0.55"/>
<rect x="587.90" y="355.50" width="25.4" height="1.90" fill="#824525"/>
<rect x="587.90" y="357.40" width="25.4" height="13.30" fill="#E6822B" stroke="#000" stroke-width="1.0" stroke-opacity="0.55"/>
<rect x="587.90" y="370.70" width="25.4" height="27.60" fill="#E08925" stroke="#000" stroke-width="1.0" stroke-opacity="0.55"/>
<rect x="587.90" y="398.30" width="25.4" height="2.40" fill="#735019"/>
<rect x="587.90" y="400.70" width="25.4" height="1.80" fill="#C39A35" stroke="#000" stroke-width="1.0" stroke-opacity="0.55"/>
<rect x="587.90" y="402.50" width="25.4" height="1.10" fill="#61591F"/>
<rect x="587.90" y="403.60" width="25.4" height="65.70" fill="#9DA83A" stroke="#000" stroke-width="1.0" stroke-opacity="0.55"/>
<rect x="587.90" y="469.30" width="25.4" height="21.40" fill="#92A83C" stroke="#000" stroke-width="1.0" stroke-opacity="0.55"/>
<rect x="587.90" y="490.70" width="25.4" height="12.90" fill="#72AF44" stroke="#000" stroke-width="1.0" stroke-opacity="0.55"/>
<rect x="587.90" y="503.60" width="25.4" height="2.40" fill="#2A6128"/>
<rect x="587.90" y="506.00" width="25.4" height="4.00" fill="#25B24D" stroke="#000" stroke-width="1.0" stroke-opacity="0.55"/>
<rect x="587.90" y="510.00" width="25.4" height="2.40" fill="#156342"/>
<rect x="587.90" y="512.40" width="25.4" height="5.70" fill="#28B7A3" stroke="#000" stroke-width="1.0" stroke-opacity="0.55"/>
<rect x="587.90" y="518.10" width="25.4" height="64.80" fill="#1FB7BC" stroke="#000" stroke-width="1.0" stroke-opacity="0.55"/>
<rect x="587.90" y="582.90" width="25.4" height="49.20" fill="#18B2DD" stroke="#000" stroke-width="1.0" stroke-opacity="0.55"/>
<rect x="587.90" y="632.10" width="25.4" height="1.90" fill="#155F7A"/>
<rect x="587.90" y="634.00" width="25.4" height="3.90" fill="#35A6DF" stroke="#000" stroke-width="1.0" stroke-opacity="0.55"/>
<rect x="587.90" y="637.90" width="25.4" height="10.40" fill="#4A9AD6" stroke="#000" stroke-width="1.0" stroke-opacity="0.55"/>
<rect x="587.90" y="648.30" width="25.4" height="7.70" fill="#6C91CF" stroke="#000" stroke-width="1.0" stroke-opacity="0.55"/>
<rect x="587.90" y="656.00" width="25.4" height="6.60" fill="#7E8CCC" stroke="#000" stroke-width="1.0" stroke-opacity="0.55"/>
<rect x="587.90" y="662.60" width="25.4" height="7.60" fill="#9384C4" stroke="#000" stroke-width="1.0" stroke-opacity="0.55"/>
<rect x="587.90" y="670.20" width="25.4" height="2.90" fill="#5A4567"/>
<rect x="587.90" y="673.10" width="25.4" height="28.60" fill="#B678B4" stroke="#000" stroke-width="1.0" stroke-opacity="0.55"/>
<rect x="587.90" y="701.70" width="25.4" height="2.80" fill="#703C5E"/>
<rect x="587.90" y="704.50" width="25.4" height="3.50" fill="#E163A2" stroke="#000" stroke-width="1.0" stroke-opacity="0.55"/>
<rect x="587.90" y="708.00" width="25.4" height="4.10" fill="#EC62A0" stroke="#000" stroke-width="1.0" stroke-opacity="0.55"/>
<rect x="587.90" y="712.10" width="25.4" height="61.70" fill="#EC6892" stroke="#000" stroke-width="1.0" stroke-opacity="0.55"/>
<line x1="601.00" y1="774.5" x2="601.00" y2="778.3" stroke="#4a4a4a" stroke-width="1.1"/>
<text transform="translate(602.90,788.40) rotate(-45)" font-size="14.5" text-anchor="middle" dominant-baseline="central">5</text>
<rect x="616.40" y="310.20" width="25.4" height="35.80" fill="#EE6E6B" stroke="#000" stroke-width="1.0" stroke-opacity="0.55"/>
<rect x="616.40" y="346.00" width="25.4" height="6.20" fill="#F27A5A" stroke="#000" stroke-width="1.0" stroke-opacity="0.55"/>
<rect x="616.40" y="352.20" width="25.4" height="1.40" fill="#824525"/>
<rect x="616.40" y="353.60" width="25.4" height="7.60" fill="#E6822B" stroke="#000" stroke-width="1.0" stroke-opacity="0.55"/>
<rect x="616.40" y="361.20" width="25.4" height="26.70" fill="#E08925" stroke="#000" stroke-width="1.0" stroke-opacity="0.55"/>
<rect x="616.40" y="387.90" width="25.4" height="2.10" fill="#774F17"/>
<rect x="616.40" y="390.00" width="25.4" height="2.00" fill="#D0952D" stroke="#000" stroke-width="1.0" stroke-opacity="0.55"/>
<rect x="616.40" y="392.00" width="25.4" height="2.50" fill="#C39A35" stroke="#000" stroke-width="1.0" stroke-opacity="0.55"/>
<rect x="616.40" y="394.50" width="25.4" height="64.80" fill="#9DA83A" stroke="#000" stroke-width="1.0" stroke-opacity="0.55"/>
<rect x="616.40" y="459.30" width="25.4" height="5.50" fill="#92A83C" stroke="#000" stroke-width="1.0" stroke-opacity="0.55"/>
<rect x="616.40" y="464.80" width="25.4" height="20.90" fill="#72AF44" stroke="#000" stroke-width="1.0" stroke-opacity="0.55"/>
<rect x="616.40" y="485.70" width="25.4" height="1.90" fill="#2A6128"/>
<rect x="616.40" y="487.60" width="25.4" height="42.90" fill="#25B24D" stroke="#000" stroke-width="1.0" stroke-opacity="0.55"/>
<rect x="616.40" y="530.50" width="25.4" height="1.90" fill="#16633E"/>
<rect x="616.40" y="532.40" width="25.4" height="4.70" fill="#2BB796" stroke="#000" stroke-width="1.0" stroke-opacity="0.55"/>
<rect x="616.40" y="537.10" width="25.4" height="5.90" fill="#1FB7BC" stroke="#000" stroke-width="1.0" stroke-opacity="0.55"/>
<rect x="616.40" y="543.00" width="25.4" height="4.00" fill="#1AB4D2" stroke="#000" stroke-width="1.0" stroke-opacity="0.55"/>
<rect x="616.40" y="547.00" width="25.4" height="4.40" fill="#18B2DD" stroke="#000" stroke-width="1.0" stroke-opacity="0.55"/>
<rect x="616.40" y="551.40" width="25.4" height="149.30" fill="#4A9AD6" stroke="#000" stroke-width="1.0" stroke-opacity="0.55"/>
<rect x="616.40" y="700.70" width="25.4" height="10.50" fill="#6C91CF" stroke="#000" stroke-width="1.0" stroke-opacity="0.55"/>
<rect x="616.40" y="711.20" width="25.4" height="5.70" fill="#7E8CCC" stroke="#000" stroke-width="1.0" stroke-opacity="0.55"/>
<rect x="616.40" y="716.90" width="25.4" height="7.60" fill="#9384C4" stroke="#000" stroke-width="1.0" stroke-opacity="0.55"/>
<rect x="616.40" y="724.50" width="25.4" height="4.80" fill="#5A4567"/>
<rect x="616.40" y="729.30" width="25.4" height="25.70" fill="#B678B4" stroke="#000" stroke-width="1.0" stroke-opacity="0.55"/>
<rect x="616.40" y="755.00" width="25.4" height="1.90" fill="#703C5E"/>
<rect x="616.40" y="756.90" width="25.4" height="5.10" fill="#E163A2" stroke="#000" stroke-width="1.0" stroke-opacity="0.55"/>
<rect x="616.40" y="762.00" width="25.4" height="6.00" fill="#EC62A0" stroke="#000" stroke-width="1.0" stroke-opacity="0.55"/>
<rect x="616.40" y="768.00" width="25.4" height="5.80" fill="#EC6892" stroke="#000" stroke-width="1.0" stroke-opacity="0.55"/>
<line x1="629.50" y1="774.5" x2="629.50" y2="778.3" stroke="#4a4a4a" stroke-width="1.1"/>
<text transform="translate(631.40,788.40) rotate(-45)" font-size="14.5" text-anchor="middle" dominant-baseline="central">4</text>
<rect x="644.90" y="310.20" width="25.4" height="36.70" fill="#EE6E6B" stroke="#000" stroke-width="1.0" stroke-opacity="0.55"/>
<rect x="644.90" y="346.90" width="25.4" height="9.50" fill="#F27A5A" stroke="#000" stroke-width="1.0" stroke-opacity="0.55"/>
<rect x="644.90" y="356.40" width="25.4" height="1.90" fill="#824525"/>
<rect x="644.90" y="358.30" width="25.4" height="10.50" fill="#E6822B" stroke="#000" stroke-width="1.0" stroke-opacity="0.55"/>
<rect x="644.90" y="368.80" width="25.4" height="15.20" fill="#E08925" stroke="#000" stroke-width="1.0" stroke-opacity="0.55"/>
<rect x="644.90" y="384.00" width="25.4" height="2.00" fill="#774F17"/>
<rect x="644.90" y="386.00" width="25.4" height="2.00" fill="#D0952D" stroke="#000" stroke-width="1.0" stroke-opacity="0.55"/>
<rect x="644.90" y="388.00" width="25.4" height="1.80" fill="#C39A35" stroke="#000" stroke-width="1.0" stroke-opacity="0.55"/>
<rect x="644.90" y="389.80" width="25.4" height="68.50" fill="#9DA83A" stroke="#000" stroke-width="1.0" stroke-opacity="0.55"/>
<rect x="644.90" y="458.30" width="25.4" height="6.50" fill="#92A83C" stroke="#000" stroke-width="1.0" stroke-opacity="0.55"/>
<rect x="644.90" y="464.80" width="25.4" height="16.20" fill="#72AF44" stroke="#000" stroke-width="1.0" stroke-opacity="0.55"/>
<rect x="644.90" y="481.00" width="25.4" height="2.00" fill="#316127"/>
<rect x="644.90" y="483.00" width="25.4" height="5.60" fill="#3FB34B" stroke="#000" stroke-width="1.0" stroke-opacity="0.55"/>
<rect x="644.90" y="488.60" width="25.4" height="0.90" fill="#1C6441"/>
<rect x="644.90" y="489.50" width="25.4" height="34.30" fill="#28B7A3" stroke="#000" stroke-width="1.0" stroke-opacity="0.55"/>
<rect x="644.90" y="523.80" width="25.4" height="4.20" fill="#1FB7BC" stroke="#000" stroke-width="1.0" stroke-opacity="0.55"/>
<rect x="644.90" y="528.00" width="25.4" height="3.00" fill="#1AB4D2" stroke="#000" stroke-width="1.0" stroke-opacity="0.55"/>
<rect x="644.90" y="531.00" width="25.4" height="4.20" fill="#18B2DD" stroke="#000" stroke-width="1.0" stroke-opacity="0.55"/>
<rect x="644.90" y="535.20" width="25.4" height="14.30" fill="#4A9AD6" stroke="#000" stroke-width="1.0" stroke-opacity="0.55"/>
<rect x="644.90" y="549.50" width="25.4" height="130.30" fill="#6C91CF" stroke="#000" stroke-width="1.0" stroke-opacity="0.55"/>
<rect x="644.90" y="679.80" width="25.4" height="8.50" fill="#7E8CCC" stroke="#000" stroke-width="1.0" stroke-opacity="0.55"/>
<rect x="644.90" y="688.30" width="25.4" height="4.80" fill="#9384C4" stroke="#000" stroke-width="1.0" stroke-opacity="0.55"/>
<rect x="644.90" y="693.10" width="25.4" height="1.90" fill="#5A4567"/>
<rect x="644.90" y="695.00" width="25.4" height="28.60" fill="#B678B4" stroke="#000" stroke-width="1.0" stroke-opacity="0.55"/>
<rect x="644.90" y="723.60" width="25.4" height="1.90" fill="#703C5E"/>
<rect x="644.90" y="725.50" width="25.4" height="20.90" fill="#E163A2" stroke="#000" stroke-width="1.0" stroke-opacity="0.55"/>
<rect x="644.90" y="746.40" width="25.4" height="1.00" fill="#7F3659"/>
<rect x="644.90" y="747.40" width="25.4" height="12.60" fill="#EC62A0" stroke="#000" stroke-width="1.0" stroke-opacity="0.55"/>
<rect x="644.90" y="760.00" width="25.4" height="6.00" fill="#EA6499" stroke="#000" stroke-width="1.0" stroke-opacity="0.55"/>
<rect x="644.90" y="766.00" width="25.4" height="7.80" fill="#EC6892" stroke="#000" stroke-width="1.0" stroke-opacity="0.55"/>
<line x1="658.00" y1="774.5" x2="658.00" y2="778.3" stroke="#4a4a4a" stroke-width="1.1"/>
<text transform="translate(660.20,790.70) rotate(-45)" font-size="14.5" text-anchor="middle" dominant-baseline="central">11</text>
<rect x="673.40" y="310.20" width="25.4" height="52.90" fill="#EE6E6B" stroke="#000" stroke-width="1.0" stroke-opacity="0.55"/>
<rect x="673.40" y="363.10" width="25.4" height="2.90" fill="#F27A5A" stroke="#000" stroke-width="1.0" stroke-opacity="0.55"/>
<rect x="673.40" y="366.00" width="25.4" height="1.00" fill="#824525"/>
<rect x="673.40" y="367.00" width="25.4" height="2.80" fill="#E6822B" stroke="#000" stroke-width="1.0" stroke-opacity="0.55"/>
<rect x="673.40" y="369.80" width="25.4" height="27.60" fill="#E08925" stroke="#000" stroke-width="1.0" stroke-opacity="0.55"/>
<rect x="673.40" y="397.40" width="25.4" height="2.10" fill="#774F17"/>
<rect x="673.40" y="399.50" width="25.4" height="1.50" fill="#D0952D" stroke="#000" stroke-width="1.0" stroke-opacity="0.55"/>
<rect x="673.40" y="401.00" width="25.4" height="2.10" fill="#C39A35" stroke="#000" stroke-width="1.0" stroke-opacity="0.55"/>
<rect x="673.40" y="403.10" width="25.4" height="98.80" fill="#9DA83A" stroke="#000" stroke-width="1.0" stroke-opacity="0.55"/>
<rect x="673.40" y="501.90" width="25.4" height="1.60" fill="#535C20"/>
<rect x="673.40" y="503.50" width="25.4" height="2.20" fill="#92A83C" stroke="#000" stroke-width="1.0" stroke-opacity="0.55"/>
<rect x="673.40" y="505.70" width="25.4" height="135.00" fill="#72AF44" stroke="#000" stroke-width="1.0" stroke-opacity="0.55"/>
<rect x="673.40" y="640.70" width="25.4" height="2.30" fill="#316127"/>
<rect x="673.40" y="643.00" width="25.4" height="3.00" fill="#3FB34B" stroke="#000" stroke-width="1.0" stroke-opacity="0.55"/>
<rect x="673.40" y="646.00" width="25.4" height="2.00" fill="#25B24D" stroke="#000" stroke-width="1.0" stroke-opacity="0.55"/>
<rect x="673.40" y="648.00" width="25.4" height="2.20" fill="#156342"/>
<rect x="673.40" y="650.20" width="25.4" height="5.80" fill="#28B7A3" stroke="#000" stroke-width="1.0" stroke-opacity="0.55"/>
<rect x="673.40" y="656.00" width="25.4" height="4.00" fill="#1FB7BC" stroke="#000" stroke-width="1.0" stroke-opacity="0.55"/>
<rect x="673.40" y="660.00" width="25.4" height="2.60" fill="#1AB4D2" stroke="#000" stroke-width="1.0" stroke-opacity="0.55"/>
<rect x="673.40" y="662.60" width="25.4" height="4.80" fill="#18B2DD" stroke="#000" stroke-width="1.0" stroke-opacity="0.55"/>
<rect x="673.40" y="667.40" width="25.4" height="0.90" fill="#1B5B78"/>
<rect x="673.40" y="668.30" width="25.4" height="10.50" fill="#4A9AD6" stroke="#000" stroke-width="1.0" stroke-opacity="0.55"/>
<rect x="673.40" y="678.80" width="25.4" height="35.20" fill="#6C91CF" stroke="#000" stroke-width="1.0" stroke-opacity="0.55"/>
<rect x="673.40" y="714.00" width="25.4" height="5.80" fill="#7E8CCC" stroke="#000" stroke-width="1.0" stroke-opacity="0.55"/>
<rect x="673.40" y="719.80" width="25.4" height="7.60" fill="#9384C4" stroke="#000" stroke-width="1.0" stroke-opacity="0.55"/>
<rect x="673.40" y="727.40" width="25.4" height="0.90" fill="#5A4567"/>
<rect x="673.40" y="728.30" width="25.4" height="34.30" fill="#B678B4" stroke="#000" stroke-width="1.0" stroke-opacity="0.55"/>
<rect x="673.40" y="762.60" width="25.4" height="1.90" fill="#733C5E"/>
<rect x="673.40" y="764.50" width="25.4" height="9.30" fill="#EC62A0" stroke="#000" stroke-width="1.0" stroke-opacity="0.55"/>
<line x1="686.50" y1="774.5" x2="686.50" y2="778.3" stroke="#4a4a4a" stroke-width="1.1"/>
<text transform="translate(688.40,788.40) rotate(-45)" font-size="14.5" text-anchor="middle" dominant-baseline="central">7</text>
<rect x="701.90" y="310.20" width="25.4" height="18.60" fill="#EE6E6B" stroke="#000" stroke-width="1.0" stroke-opacity="0.55"/>
<rect x="701.90" y="328.80" width="25.4" height="5.70" fill="#F27A5A" stroke="#000" stroke-width="1.0" stroke-opacity="0.55"/>
<rect x="701.90" y="334.50" width="25.4" height="1.90" fill="#804723"/>
<rect x="701.90" y="336.40" width="25.4" height="15.30" fill="#E08925" stroke="#000" stroke-width="1.0" stroke-opacity="0.55"/>
<rect x="701.90" y="351.70" width="25.4" height="1.90" fill="#735019"/>
<rect x="701.90" y="353.60" width="25.4" height="5.70" fill="#C39A35" stroke="#000" stroke-width="1.0" stroke-opacity="0.55"/>
<rect x="701.90" y="359.30" width="25.4" height="0.90" fill="#61591F"/>
<rect x="701.90" y="360.20" width="25.4" height="50.50" fill="#9DA83A" stroke="#000" stroke-width="1.0" stroke-opacity="0.55"/>
<rect x="701.90" y="410.70" width="25.4" height="1.30" fill="#535C20"/>
<rect x="701.90" y="412.00" width="25.4" height="3.50" fill="#92A83C" stroke="#000" stroke-width="1.0" stroke-opacity="0.55"/>
<rect x="701.90" y="415.50" width="25.4" height="11.40" fill="#72AF44" stroke="#000" stroke-width="1.0" stroke-opacity="0.55"/>
<rect x="701.90" y="426.90" width="25.4" height="2.10" fill="#2A6128"/>
<rect x="701.90" y="429.00" width="25.4" height="3.60" fill="#25B24D" stroke="#000" stroke-width="1.0" stroke-opacity="0.55"/>
<rect x="701.90" y="432.60" width="25.4" height="5.70" fill="#28B7A3" stroke="#000" stroke-width="1.0" stroke-opacity="0.55"/>
<rect x="701.90" y="438.30" width="25.4" height="5.70" fill="#1CB6C7" stroke="#000" stroke-width="1.0" stroke-opacity="0.55"/>
<rect x="701.90" y="444.00" width="25.4" height="11.50" fill="#4A9AD6" stroke="#000" stroke-width="1.0" stroke-opacity="0.55"/>
<rect x="701.90" y="455.50" width="25.4" height="7.40" fill="#6C91CF" stroke="#000" stroke-width="1.0" stroke-opacity="0.55"/>
<rect x="701.90" y="462.90" width="25.4" height="2.10" fill="#464C6F"/>
<rect x="701.90" y="465.00" width="25.4" height="3.60" fill="#9384C4" stroke="#000" stroke-width="1.0" stroke-opacity="0.55"/>
<rect x="701.90" y="468.60" width="25.4" height="12.40" fill="#B678B4" stroke="#000" stroke-width="1.0" stroke-opacity="0.55"/>
<rect x="701.90" y="481.00" width="25.4" height="3.80" fill="#733C5E"/>
<rect x="701.90" y="484.80" width="25.4" height="281.60" fill="#EC62A0" stroke="#000" stroke-width="1.0" stroke-opacity="0.55"/>
<rect x="701.90" y="766.40" width="25.4" height="1.00" fill="#823854"/>
<rect x="701.90" y="767.40" width="25.4" height="6.40" fill="#EC6892" stroke="#000" stroke-width="1.0" stroke-opacity="0.55"/>
<line x1="715.00" y1="774.5" x2="715.00" y2="778.3" stroke="#4a4a4a" stroke-width="1.1"/>
<text transform="translate(717.20,790.70) rotate(-45)" font-size="14.5" text-anchor="middle" dominant-baseline="central">10</text>
<rect x="730.40" y="310.20" width="25.4" height="16.70" fill="#EE6E6B" stroke="#000" stroke-width="1.0" stroke-opacity="0.55"/>
<rect x="730.40" y="326.90" width="25.4" height="2.50" fill="#F27A5A" stroke="#000" stroke-width="1.0" stroke-opacity="0.55"/>
<rect x="730.40" y="329.40" width="25.4" height="1.90" fill="#824525"/>
<rect x="730.40" y="331.30" width="25.4" height="10.80" fill="#E6822B" stroke="#000" stroke-width="1.0" stroke-opacity="0.55"/>
<rect x="730.40" y="342.10" width="25.4" height="227.40" fill="#E08925" stroke="#000" stroke-width="1.0" stroke-opacity="0.55"/>
<rect x="730.40" y="569.50" width="25.4" height="2.90" fill="#69541A"/>
<rect x="730.40" y="572.40" width="25.4" height="29.50" fill="#9DA83A" stroke="#000" stroke-width="1.0" stroke-opacity="0.55"/>
<rect x="730.40" y="601.90" width="25.4" height="2.90" fill="#4B5E23"/>
<rect x="730.40" y="604.80" width="25.4" height="58.80" fill="#72AF44" stroke="#000" stroke-width="1.0" stroke-opacity="0.55"/>
<rect x="730.40" y="663.60" width="25.4" height="3.40" fill="#2A6128"/>
<rect x="730.40" y="667.00" width="25.4" height="3.00" fill="#25B24D" stroke="#000" stroke-width="1.0" stroke-opacity="0.55"/>
<rect x="730.40" y="670.00" width="25.4" height="2.10" fill="#156342"/>
<rect x="730.40" y="672.10" width="25.4" height="4.80" fill="#28B7A3" stroke="#000" stroke-width="1.0" stroke-opacity="0.55"/>
<rect x="730.40" y="676.90" width="25.4" height="4.10" fill="#1CB6C7" stroke="#000" stroke-width="1.0" stroke-opacity="0.55"/>
<rect x="730.40" y="681.00" width="25.4" height="4.50" fill="#18B2DD" stroke="#000" stroke-width="1.0" stroke-opacity="0.55"/>
<rect x="730.40" y="685.50" width="25.4" height="6.50" fill="#4A9AD6" stroke="#000" stroke-width="1.0" stroke-opacity="0.55"/>
<rect x="730.40" y="692.00" width="25.4" height="6.80" fill="#6C91CF" stroke="#000" stroke-width="1.0" stroke-opacity="0.55"/>
<rect x="730.40" y="698.80" width="25.4" height="1.00" fill="#434E70"/>
<rect x="730.40" y="699.80" width="25.4" height="52.30" fill="#8889C9" stroke="#000" stroke-width="1.0" stroke-opacity="0.55"/>
<rect x="730.40" y="752.10" width="25.4" height="1.90" fill="#574769"/>
<rect x="730.40" y="754.00" width="25.4" height="7.70" fill="#B678B4" stroke="#000" stroke-width="1.0" stroke-opacity="0.55"/>
<rect x="730.40" y="761.70" width="25.4" height="1.90" fill="#733C5E"/>
<rect x="730.40" y="763.60" width="25.4" height="4.40" fill="#EC62A0" stroke="#000" stroke-width="1.0" stroke-opacity="0.55"/>
<rect x="730.40" y="768.00" width="25.4" height="5.80" fill="#EC6892" stroke="#000" stroke-width="1.0" stroke-opacity="0.55"/>
<line x1="743.50" y1="774.5" x2="743.50" y2="778.3" stroke="#4a4a4a" stroke-width="1.1"/>
<text transform="translate(745.70,790.70) rotate(-45)" font-size="14.5" text-anchor="middle" dominant-baseline="central">16</text>
<rect x="758.90" y="310.20" width="25.4" height="23.40" fill="#EE6E6B" stroke="#000" stroke-width="1.0" stroke-opacity="0.55"/>
<rect x="758.90" y="333.60" width="25.4" height="9.50" fill="#F27A5A" stroke="#000" stroke-width="1.0" stroke-opacity="0.55"/>
<rect x="758.90" y="343.10" width="25.4" height="1.90" fill="#824525"/>
<rect x="758.90" y="345.00" width="25.4" height="9.50" fill="#E6822B" stroke="#000" stroke-width="1.0" stroke-opacity="0.55"/>
<rect x="758.90" y="354.50" width="25.4" height="7.60" fill="#E08925" stroke="#000" stroke-width="1.0" stroke-opacity="0.55"/>
<rect x="758.90" y="362.10" width="25.4" height="1.90" fill="#735019"/>
<rect x="758.90" y="364.00" width="25.4" height="2.90" fill="#C39A35" stroke="#000" stroke-width="1.0" stroke-opacity="0.55"/>
<rect x="758.90" y="366.90" width="25.4" height="21.90" fill="#9DA83A" stroke="#000" stroke-width="1.0" stroke-opacity="0.55"/>
<rect x="758.90" y="388.80" width="25.4" height="1.00" fill="#535C20"/>
<rect x="758.90" y="389.80" width="25.4" height="175.00" fill="#92A83C" stroke="#000" stroke-width="1.0" stroke-opacity="0.55"/>
<rect x="758.90" y="564.80" width="25.4" height="36.20" fill="#72AF44" stroke="#000" stroke-width="1.0" stroke-opacity="0.55"/>
<rect x="758.90" y="601.00" width="25.4" height="3.00" fill="#2A6128"/>
<rect x="758.90" y="604.00" width="25.4" height="4.00" fill="#25B24D" stroke="#000" stroke-width="1.0" stroke-opacity="0.55"/>
<rect x="758.90" y="608.00" width="25.4" height="2.50" fill="#156342"/>
<rect x="758.90" y="610.50" width="25.4" height="4.70" fill="#28B7A3" stroke="#000" stroke-width="1.0" stroke-opacity="0.55"/>
<rect x="758.90" y="615.20" width="25.4" height="3.60" fill="#146561"/>
<rect x="758.90" y="618.80" width="25.4" height="19.10" fill="#1FB7BC" stroke="#000" stroke-width="1.0" stroke-opacity="0.55"/>
<rect x="758.90" y="637.90" width="25.4" height="3.80" fill="#0F6370"/>
<rect x="758.90" y="641.70" width="25.4" height="21.90" fill="#18B2DD" stroke="#000" stroke-width="1.0" stroke-opacity="0.55"/>
<rect x="758.90" y="663.60" width="25.4" height="1.90" fill="#1B5B78"/>
<rect x="758.90" y="665.50" width="25.4" height="13.30" fill="#4A9AD6" stroke="#000" stroke-width="1.0" stroke-opacity="0.55"/>
<rect x="758.90" y="678.80" width="25.4" height="49.50" fill="#6C91CF" stroke="#000" stroke-width="1.0" stroke-opacity="0.55"/>
<rect x="758.90" y="728.30" width="25.4" height="5.70" fill="#7E8CCC" stroke="#000" stroke-width="1.0" stroke-opacity="0.55"/>
<rect x="758.90" y="734.00" width="25.4" height="9.60" fill="#9384C4" stroke="#000" stroke-width="1.0" stroke-opacity="0.55"/>
<rect x="758.90" y="743.60" width="25.4" height="2.80" fill="#5A4567"/>
<rect x="758.90" y="746.40" width="25.4" height="10.50" fill="#B678B4" stroke="#000" stroke-width="1.0" stroke-opacity="0.55"/>
<rect x="758.90" y="756.90" width="25.4" height="3.80" fill="#733C5E"/>
<rect x="758.90" y="760.70" width="25.4" height="7.30" fill="#EC62A0" stroke="#000" stroke-width="1.0" stroke-opacity="0.55"/>
<rect x="758.90" y="768.00" width="25.4" height="5.80" fill="#EC6892" stroke="#000" stroke-width="1.0" stroke-opacity="0.55"/>
<line x1="772.00" y1="774.5" x2="772.00" y2="778.3" stroke="#4a4a4a" stroke-width="1.1"/>
<text transform="translate(773.90,788.40) rotate(-45)" font-size="14.5" text-anchor="middle" dominant-baseline="central">8</text>
<rect x="787.40" y="310.20" width="25.4" height="49.10" fill="#EE6E6B" stroke="#000" stroke-width="1.0" stroke-opacity="0.55"/>
<rect x="787.40" y="359.30" width="25.4" height="2.80" fill="#F27A5A" stroke="#000" stroke-width="1.0" stroke-opacity="0.55"/>
<rect x="787.40" y="362.10" width="25.4" height="3.50" fill="#824525"/>
<rect x="787.40" y="365.60" width="25.4" height="77.50" fill="#E6822B" stroke="#000" stroke-width="1.0" stroke-opacity="0.55"/>
<rect x="787.40" y="443.10" width="25.4" height="1.40" fill="#7D4916"/>
<rect x="787.40" y="444.50" width="25.4" height="2.00" fill="#E08925" stroke="#000" stroke-width="1.0" stroke-opacity="0.55"/>
<rect x="787.40" y="446.50" width="25.4" height="1.40" fill="#69541A"/>
<rect x="787.40" y="447.90" width="25.4" height="153.10" fill="#9DA83A" stroke="#000" stroke-width="1.0" stroke-opacity="0.55"/>
<rect x="787.40" y="601.00" width="25.4" height="3.80" fill="#535C20"/>
<rect x="787.40" y="604.80" width="25.4" height="7.60" fill="#92A83C" stroke="#000" stroke-width="1.0" stroke-opacity="0.55"/>
<rect x="787.40" y="612.40" width="25.4" height="23.60" fill="#72AF44" stroke="#000" stroke-width="1.0" stroke-opacity="0.55"/>
<rect x="787.40" y="636.00" width="25.4" height="4.00" fill="#2A6128"/>
<rect x="787.40" y="640.00" width="25.4" height="3.60" fill="#25B24D" stroke="#000" stroke-width="1.0" stroke-opacity="0.55"/>
<rect x="787.40" y="643.60" width="25.4" height="5.70" fill="#28B7A3" stroke="#000" stroke-width="1.0" stroke-opacity="0.55"/>
<rect x="787.40" y="649.30" width="25.4" height="4.70" fill="#126467"/>
<rect x="787.40" y="654.00" width="25.4" height="7.70" fill="#1AB4D2" stroke="#000" stroke-width="1.0" stroke-opacity="0.55"/>
<rect x="787.40" y="661.70" width="25.4" height="0.90" fill="#255973"/>
<rect x="787.40" y="662.60" width="25.4" height="39.10" fill="#6C91CF" stroke="#000" stroke-width="1.0" stroke-opacity="0.55"/>
<rect x="787.40" y="701.70" width="25.4" height="0.90" fill="#404E71"/>
<rect x="787.40" y="702.60" width="25.4" height="2.90" fill="#7E8CCC" stroke="#000" stroke-width="1.0" stroke-opacity="0.55"/>
<rect x="787.40" y="705.50" width="25.4" height="23.80" fill="#9384C4" stroke="#000" stroke-width="1.0" stroke-opacity="0.55"/>
<rect x="787.40" y="729.30" width="25.4" height="5.70" fill="#5A4567"/>
<rect x="787.40" y="735.00" width="25.4" height="22.90" fill="#B678B4" stroke="#000" stroke-width="1.0" stroke-opacity="0.55"/>
<rect x="787.40" y="757.90" width="25.4" height="4.70" fill="#733C5E"/>
<rect x="787.40" y="762.60" width="25.4" height="11.20" fill="#EC62A0" stroke="#000" stroke-width="1.0" stroke-opacity="0.55"/>
<line x1="800.50" y1="774.5" x2="800.50" y2="778.3" stroke="#4a4a4a" stroke-width="1.1"/>
<text transform="translate(802.70,790.70) rotate(-45)" font-size="14.5" text-anchor="middle" dominant-baseline="central">13</text>
<rect x="815.90" y="310.20" width="25.4" height="126.20" fill="#EE6E6B" stroke="#000" stroke-width="1.0" stroke-opacity="0.55"/>
<rect x="815.90" y="436.40" width="25.4" height="4.80" fill="#F27A5A" stroke="#000" stroke-width="1.0" stroke-opacity="0.55"/>
<rect x="815.90" y="441.20" width="25.4" height="16.20" fill="#E6822B" stroke="#000" stroke-width="1.0" stroke-opacity="0.55"/>
<rect x="815.90" y="457.40" width="25.4" height="5.70" fill="#6A521C"/>
<rect x="815.90" y="463.10" width="25.4" height="87.40" fill="#9DA83A" stroke="#000" stroke-width="1.0" stroke-opacity="0.55"/>
<rect x="815.90" y="550.50" width="25.4" height="2.80" fill="#4B5E23"/>
<rect x="815.90" y="553.30" width="25.4" height="30.50" fill="#72AF44" stroke="#000" stroke-width="1.0" stroke-opacity="0.55"/>
<rect x="815.90" y="583.80" width="25.4" height="3.20" fill="#2A6128"/>
<rect x="815.90" y="587.00" width="25.4" height="4.40" fill="#25B24D" stroke="#000" stroke-width="1.0" stroke-opacity="0.55"/>
<rect x="815.90" y="591.40" width="25.4" height="16.20" fill="#28B7A3" stroke="#000" stroke-width="1.0" stroke-opacity="0.55"/>
<rect x="815.90" y="607.60" width="25.4" height="2.40" fill="#136464"/>
<rect x="815.90" y="610.00" width="25.4" height="4.30" fill="#1CB6C7" stroke="#000" stroke-width="1.0" stroke-opacity="0.55"/>
<rect x="815.90" y="614.30" width="25.4" height="9.30" fill="#4A9AD6" stroke="#000" stroke-width="1.0" stroke-opacity="0.55"/>
<rect x="815.90" y="623.60" width="25.4" height="0.90" fill="#325274"/>
<rect x="815.90" y="624.50" width="25.4" height="8.60" fill="#6C91CF" stroke="#000" stroke-width="1.0" stroke-opacity="0.55"/>
<rect x="815.90" y="633.10" width="25.4" height="0.90" fill="#404E71"/>
<rect x="815.90" y="634.00" width="25.4" height="7.70" fill="#7E8CCC" stroke="#000" stroke-width="1.0" stroke-opacity="0.55"/>
<rect x="815.90" y="641.70" width="25.4" height="4.70" fill="#9384C4" stroke="#000" stroke-width="1.0" stroke-opacity="0.55"/>
<rect x="815.90" y="646.40" width="25.4" height="1.60" fill="#53486B"/>
<rect x="815.90" y="648.00" width="25.4" height="4.10" fill="#9C80C0" stroke="#000" stroke-width="1.0" stroke-opacity="0.55"/>
<rect x="815.90" y="652.10" width="25.4" height="101.90" fill="#B678B4" stroke="#000" stroke-width="1.0" stroke-opacity="0.55"/>
<rect x="815.90" y="754.00" width="25.4" height="3.00" fill="#6A3F60"/>
<rect x="815.90" y="757.00" width="25.4" height="3.70" fill="#CB6CAA" stroke="#000" stroke-width="1.0" stroke-opacity="0.55"/>
<rect x="815.90" y="760.70" width="25.4" height="13.10" fill="#EC62A0" stroke="#000" stroke-width="1.0" stroke-opacity="0.55"/>
<line x1="829.00" y1="774.5" x2="829.00" y2="778.3" stroke="#4a4a4a" stroke-width="1.1"/>
<text transform="translate(831.20,790.70) rotate(-45)" font-size="14.5" text-anchor="middle" dominant-baseline="central">12</text>
<rect x="844.40" y="310.20" width="25.4" height="11.90" fill="#EE6E6B" stroke="#000" stroke-width="1.0" stroke-opacity="0.55"/>
<rect x="844.40" y="322.10" width="25.4" height="4.80" fill="#F27A5A" stroke="#000" stroke-width="1.0" stroke-opacity="0.55"/>
<rect x="844.40" y="326.90" width="25.4" height="1.60" fill="#83432C"/>
<rect x="844.40" y="328.50" width="25.4" height="3.20" fill="#EB7B45" stroke="#000" stroke-width="1.0" stroke-opacity="0.55"/>
<rect x="844.40" y="331.70" width="25.4" height="20.90" fill="#E6822B" stroke="#000" stroke-width="1.0" stroke-opacity="0.55"/>
<rect x="844.40" y="352.60" width="25.4" height="4.80" fill="#E08925" stroke="#000" stroke-width="1.0" stroke-opacity="0.55"/>
<rect x="844.40" y="357.40" width="25.4" height="2.80" fill="#69541A"/>
<rect x="844.40" y="360.20" width="25.4" height="8.60" fill="#9DA83A" stroke="#000" stroke-width="1.0" stroke-opacity="0.55"/>
<rect x="844.40" y="368.80" width="25.4" height="1.90" fill="#4B5E23"/>
<rect x="844.40" y="370.70" width="25.4" height="322.40" fill="#72AF44" stroke="#000" stroke-width="1.0" stroke-opacity="0.55"/>
<rect x="844.40" y="693.10" width="25.4" height="1.90" fill="#2A6128"/>
<rect x="844.40" y="695.00" width="25.4" height="8.60" fill="#25B24D" stroke="#000" stroke-width="1.0" stroke-opacity="0.55"/>
<rect x="844.40" y="703.60" width="25.4" height="2.80" fill="#156342"/>
<rect x="844.40" y="706.40" width="25.4" height="7.60" fill="#28B7A3" stroke="#000" stroke-width="1.0" stroke-opacity="0.55"/>
<rect x="844.40" y="714.00" width="25.4" height="2.00" fill="#12636A"/>
<rect x="844.40" y="716.00" width="25.4" height="4.70" fill="#18B2DD" stroke="#000" stroke-width="1.0" stroke-opacity="0.55"/>
<rect x="844.40" y="720.70" width="25.4" height="10.50" fill="#4A9AD6" stroke="#000" stroke-width="1.0" stroke-opacity="0.55"/>
<rect x="844.40" y="731.20" width="25.4" height="8.60" fill="#6C91CF" stroke="#000" stroke-width="1.0" stroke-opacity="0.55"/>
<rect x="844.40" y="739.80" width="25.4" height="7.60" fill="#7E8CCC" stroke="#000" stroke-width="1.0" stroke-opacity="0.55"/>
<rect x="844.40" y="747.40" width="25.4" height="3.60" fill="#9384C4" stroke="#000" stroke-width="1.0" stroke-opacity="0.55"/>
<rect x="844.40" y="751.00" width="25.4" height="5.90" fill="#B678B4" stroke="#000" stroke-width="1.0" stroke-opacity="0.55"/>
<rect x="844.40" y="756.90" width="25.4" height="5.70" fill="#733C5E"/>
<rect x="844.40" y="762.60" width="25.4" height="11.20" fill="#EC62A0" stroke="#000" stroke-width="1.0" stroke-opacity="0.55"/>
<line x1="857.50" y1="774.5" x2="857.50" y2="778.3" stroke="#4a4a4a" stroke-width="1.1"/>
<text transform="translate(859.70,790.70) rotate(-45)" font-size="14.5" text-anchor="middle" dominant-baseline="central">18</text>
<rect x="872.90" y="310.20" width="25.4" height="66.20" fill="#EE6E6B" stroke="#000" stroke-width="1.0" stroke-opacity="0.55"/>
<rect x="872.90" y="376.40" width="25.4" height="3.80" fill="#7F4428"/>
<rect x="872.90" y="380.20" width="25.4" height="73.40" fill="#E08925" stroke="#000" stroke-width="1.0" stroke-opacity="0.55"/>
<rect x="872.90" y="453.60" width="25.4" height="2.80" fill="#69541A"/>
<rect x="872.90" y="456.40" width="25.4" height="178.60" fill="#9DA83A" stroke="#000" stroke-width="1.0" stroke-opacity="0.55"/>
<rect x="872.90" y="635.00" width="25.4" height="3.80" fill="#4B5E23"/>
<rect x="872.90" y="638.80" width="25.4" height="11.40" fill="#72AF44" stroke="#000" stroke-width="1.0" stroke-opacity="0.55"/>
<rect x="872.90" y="650.20" width="25.4" height="4.80" fill="#60B148" stroke="#000" stroke-width="1.0" stroke-opacity="0.55"/>
<rect x="872.90" y="655.00" width="25.4" height="4.80" fill="#256341"/>
<rect x="872.90" y="659.80" width="25.4" height="10.40" fill="#28B7A3" stroke="#000" stroke-width="1.0" stroke-opacity="0.55"/>
<rect x="872.90" y="670.20" width="25.4" height="3.80" fill="#1C5E69"/>
<rect x="872.90" y="674.00" width="25.4" height="7.70" fill="#3FA0DB" stroke="#000" stroke-width="1.0" stroke-opacity="0.55"/>
<rect x="872.90" y="681.70" width="25.4" height="7.60" fill="#4A9AD6" stroke="#000" stroke-width="1.0" stroke-opacity="0.55"/>
<rect x="872.90" y="689.30" width="25.4" height="7.60" fill="#6C91CF" stroke="#000" stroke-width="1.0" stroke-opacity="0.55"/>
<rect x="872.90" y="696.90" width="25.4" height="14.30" fill="#7E8CCC" stroke="#000" stroke-width="1.0" stroke-opacity="0.55"/>
<rect x="872.90" y="711.20" width="25.4" height="5.70" fill="#9384C4" stroke="#000" stroke-width="1.0" stroke-opacity="0.55"/>
<rect x="872.90" y="716.90" width="25.4" height="46.70" fill="#B678B4" stroke="#000" stroke-width="1.0" stroke-opacity="0.55"/>
<rect x="872.90" y="763.60" width="25.4" height="1.90" fill="#733C5E"/>
<rect x="872.90" y="765.50" width="25.4" height="8.30" fill="#EC62A0" stroke="#000" stroke-width="1.0" stroke-opacity="0.55"/>
<line x1="886.00" y1="774.5" x2="886.00" y2="778.3" stroke="#4a4a4a" stroke-width="1.1"/>
<text transform="translate(887.90,788.40) rotate(-45)" font-size="14.5" text-anchor="middle" dominant-baseline="central">1</text>
<rect x="901.40" y="310.20" width="25.4" height="12.90" fill="#EE6E6B" stroke="#000" stroke-width="1.0" stroke-opacity="0.55"/>
<rect x="901.40" y="323.10" width="25.4" height="2.90" fill="#F27A5A" stroke="#000" stroke-width="1.0" stroke-opacity="0.55"/>
<rect x="901.40" y="326.00" width="25.4" height="1.90" fill="#824525"/>
<rect x="901.40" y="327.90" width="25.4" height="18.10" fill="#E6822B" stroke="#000" stroke-width="1.0" stroke-opacity="0.55"/>
<rect x="901.40" y="346.00" width="25.4" height="4.70" fill="#E08925" stroke="#000" stroke-width="1.0" stroke-opacity="0.55"/>
<rect x="901.40" y="350.70" width="25.4" height="2.90" fill="#69541A"/>
<rect x="901.40" y="353.60" width="25.4" height="24.70" fill="#9DA83A" stroke="#000" stroke-width="1.0" stroke-opacity="0.55"/>
<rect x="901.40" y="378.30" width="25.4" height="16.20" fill="#72AF44" stroke="#000" stroke-width="1.0" stroke-opacity="0.55"/>
<rect x="901.40" y="394.50" width="25.4" height="3.50" fill="#2A6128"/>
<rect x="901.40" y="398.00" width="25.4" height="4.10" fill="#25B24D" stroke="#000" stroke-width="1.0" stroke-opacity="0.55"/>
<rect x="901.40" y="402.10" width="25.4" height="7.20" fill="#28B7A3" stroke="#000" stroke-width="1.0" stroke-opacity="0.55"/>
<rect x="901.40" y="409.30" width="25.4" height="1.70" fill="#126467"/>
<rect x="901.40" y="411.00" width="25.4" height="2.50" fill="#1AB4D2" stroke="#000" stroke-width="1.0" stroke-opacity="0.55"/>
<rect x="901.40" y="413.50" width="25.4" height="1.50" fill="#1C5C75"/>
<rect x="901.40" y="415.00" width="25.4" height="11.40" fill="#4A9AD6" stroke="#000" stroke-width="1.0" stroke-opacity="0.55"/>
<rect x="901.40" y="426.40" width="25.4" height="4.30" fill="#6C91CF" stroke="#000" stroke-width="1.0" stroke-opacity="0.55"/>
<rect x="901.40" y="430.70" width="25.4" height="10.00" fill="#8889C9" stroke="#000" stroke-width="1.0" stroke-opacity="0.55"/>
<rect x="901.40" y="440.70" width="25.4" height="1.80" fill="#4E4A6D"/>
<rect x="901.40" y="442.50" width="25.4" height="2.50" fill="#9384C4" stroke="#000" stroke-width="1.0" stroke-opacity="0.55"/>
<rect x="901.40" y="445.00" width="25.4" height="2.50" fill="#9C80C0" stroke="#000" stroke-width="1.0" stroke-opacity="0.55"/>
<rect x="901.40" y="447.50" width="25.4" height="1.80" fill="#604265"/>
<rect x="901.40" y="449.30" width="25.4" height="15.70" fill="#C270AE" stroke="#000" stroke-width="1.0" stroke-opacity="0.55"/>
<rect x="901.40" y="465.00" width="25.4" height="2.90" fill="#713B5E"/>
<rect x="901.40" y="467.90" width="25.4" height="4.20" fill="#DA66A6" stroke="#000" stroke-width="1.0" stroke-opacity="0.55"/>
<rect x="901.40" y="472.10" width="25.4" height="295.30" fill="#EC62A0" stroke="#000" stroke-width="1.0" stroke-opacity="0.55"/>
<rect x="901.40" y="767.40" width="25.4" height="6.40" fill="#EC6892" stroke="#000" stroke-width="1.0" stroke-opacity="0.55"/>
<line x1="914.50" y1="774.5" x2="914.50" y2="778.3" stroke="#4a4a4a" stroke-width="1.1"/>
<text transform="translate(916.70,790.70) rotate(-45)" font-size="14.5" text-anchor="middle" dominant-baseline="central">21</text>
<rect x="929.90" y="310.20" width="25.4" height="61.50" fill="#EE6E6B" stroke="#000" stroke-width="1.0" stroke-opacity="0.55"/>
<rect x="929.90" y="371.70" width="25.4" height="3.80" fill="#F27A5A" stroke="#000" stroke-width="1.0" stroke-opacity="0.55"/>
<rect x="929.90" y="375.50" width="25.4" height="12.40" fill="#E6822B" stroke="#000" stroke-width="1.0" stroke-opacity="0.55"/>
<rect x="929.90" y="387.90" width="25.4" height="5.70" fill="#E08925" stroke="#000" stroke-width="1.0" stroke-opacity="0.55"/>
<rect x="929.90" y="393.60" width="25.4" height="0.90" fill="#69541A"/>
<rect x="929.90" y="394.50" width="25.4" height="89.30" fill="#9DA83A" stroke="#000" stroke-width="1.0" stroke-opacity="0.55"/>
<rect x="929.90" y="483.80" width="25.4" height="18.10" fill="#72AF44" stroke="#000" stroke-width="1.0" stroke-opacity="0.55"/>
<rect x="929.90" y="501.90" width="25.4" height="37.10" fill="#60B148" stroke="#000" stroke-width="1.0" stroke-opacity="0.55"/>
<rect x="929.90" y="539.00" width="25.4" height="2.50" fill="#256229"/>
<rect x="929.90" y="541.50" width="25.4" height="2.30" fill="#25B24D" stroke="#000" stroke-width="1.0" stroke-opacity="0.55"/>
<rect x="929.90" y="543.80" width="25.4" height="2.90" fill="#2BB796" stroke="#000" stroke-width="1.0" stroke-opacity="0.55"/>
<rect x="929.90" y="546.70" width="25.4" height="12.30" fill="#28B7A3" stroke="#000" stroke-width="1.0" stroke-opacity="0.55"/>
<rect x="929.90" y="559.00" width="25.4" height="1.00" fill="#136464"/>
<rect x="929.90" y="560.00" width="25.4" height="5.00" fill="#1CB6C7" stroke="#000" stroke-width="1.0" stroke-opacity="0.55"/>
<rect x="929.90" y="565.00" width="25.4" height="5.50" fill="#18B2DD" stroke="#000" stroke-width="1.0" stroke-opacity="0.55"/>
<rect x="929.90" y="570.50" width="25.4" height="7.60" fill="#4A9AD6" stroke="#000" stroke-width="1.0" stroke-opacity="0.55"/>
<rect x="929.90" y="578.10" width="25.4" height="6.90" fill="#3FA0DB" stroke="#000" stroke-width="1.0" stroke-opacity="0.55"/>
<rect x="929.90" y="585.00" width="25.4" height="6.40" fill="#4A9AD6" stroke="#000" stroke-width="1.0" stroke-opacity="0.55"/>
<rect x="929.90" y="591.40" width="25.4" height="4.80" fill="#6C91CF" stroke="#000" stroke-width="1.0" stroke-opacity="0.55"/>
<rect x="929.90" y="596.20" width="25.4" height="6.70" fill="#7E8CCC" stroke="#000" stroke-width="1.0" stroke-opacity="0.55"/>
<rect x="929.90" y="602.90" width="25.4" height="6.60" fill="#9384C4" stroke="#000" stroke-width="1.0" stroke-opacity="0.55"/>
<rect x="929.90" y="609.50" width="25.4" height="2.90" fill="#5B4467"/>
<rect x="929.90" y="612.40" width="25.4" height="47.40" fill="#B974B2" stroke="#000" stroke-width="1.0" stroke-opacity="0.55"/>
<rect x="929.90" y="659.80" width="25.4" height="4.70" fill="#743B5D"/>
<rect x="929.90" y="664.50" width="25.4" height="102.90" fill="#EC62A0" stroke="#000" stroke-width="1.0" stroke-opacity="0.55"/>
<rect x="929.90" y="767.40" width="25.4" height="6.40" fill="#EC6892" stroke="#000" stroke-width="1.0" stroke-opacity="0.55"/>
<line x1="943.00" y1="774.5" x2="943.00" y2="778.3" stroke="#4a4a4a" stroke-width="1.1"/>
<text transform="translate(945.20,790.70) rotate(-45)" font-size="14.5" text-anchor="middle" dominant-baseline="central">30</text>
<rect x="958.40" y="310.20" width="25.4" height="7.20" fill="#EE6E6B" stroke="#000" stroke-width="1.0" stroke-opacity="0.55"/>
<rect x="958.40" y="317.40" width="25.4" height="6.60" fill="#F27A5A" stroke="#000" stroke-width="1.0" stroke-opacity="0.55"/>
<rect x="958.40" y="324.00" width="25.4" height="2.00" fill="#824525"/>
<rect x="958.40" y="326.00" width="25.4" height="25.70" fill="#E6822B" stroke="#000" stroke-width="1.0" stroke-opacity="0.55"/>
<rect x="958.40" y="351.70" width="25.4" height="10.40" fill="#E08925" stroke="#000" stroke-width="1.0" stroke-opacity="0.55"/>
<rect x="958.40" y="362.10" width="25.4" height="1.90" fill="#69541A"/>
<rect x="958.40" y="364.00" width="25.4" height="9.60" fill="#9DA83A" stroke="#000" stroke-width="1.0" stroke-opacity="0.55"/>
<rect x="958.40" y="373.60" width="25.4" height="4.70" fill="#92A83C" stroke="#000" stroke-width="1.0" stroke-opacity="0.55"/>
<rect x="958.40" y="378.30" width="25.4" height="23.80" fill="#72AF44" stroke="#000" stroke-width="1.0" stroke-opacity="0.55"/>
<rect x="958.40" y="402.10" width="25.4" height="3.90" fill="#2A6128"/>
<rect x="958.40" y="406.00" width="25.4" height="9.50" fill="#25B24D" stroke="#000" stroke-width="1.0" stroke-opacity="0.55"/>
<rect x="958.40" y="415.50" width="25.4" height="2.80" fill="#16633E"/>
<rect x="958.40" y="418.30" width="25.4" height="260.50" fill="#2BB796" stroke="#000" stroke-width="1.0" stroke-opacity="0.55"/>
<rect x="958.40" y="678.80" width="25.4" height="5.70" fill="#28B7A3" stroke="#000" stroke-width="1.0" stroke-opacity="0.55"/>
<rect x="958.40" y="684.50" width="25.4" height="1.00" fill="#12636A"/>
<rect x="958.40" y="685.50" width="25.4" height="15.20" fill="#18B2DD" stroke="#000" stroke-width="1.0" stroke-opacity="0.55"/>
<rect x="958.40" y="700.70" width="25.4" height="1.90" fill="#155F7A"/>
<rect x="958.40" y="702.60" width="25.4" height="10.50" fill="#35A6DF" stroke="#000" stroke-width="1.0" stroke-opacity="0.55"/>
<rect x="958.40" y="713.10" width="25.4" height="10.50" fill="#4A9AD6" stroke="#000" stroke-width="1.0" stroke-opacity="0.55"/>
<rect x="958.40" y="723.60" width="25.4" height="9.50" fill="#6C91CF" stroke="#000" stroke-width="1.0" stroke-opacity="0.55"/>
<rect x="958.40" y="733.10" width="25.4" height="11.40" fill="#7E8CCC" stroke="#000" stroke-width="1.0" stroke-opacity="0.55"/>
<rect x="958.40" y="744.50" width="25.4" height="2.90" fill="#51486C"/>
<rect x="958.40" y="747.40" width="25.4" height="9.50" fill="#A77BBB" stroke="#000" stroke-width="1.0" stroke-opacity="0.55"/>
<rect x="958.40" y="756.90" width="25.4" height="1.90" fill="#6F3D5F"/>
<rect x="958.40" y="758.80" width="25.4" height="9.20" fill="#EC62A0" stroke="#000" stroke-width="1.0" stroke-opacity="0.55"/>
<rect x="958.40" y="768.00" width="25.4" height="5.80" fill="#EC6892" stroke="#000" stroke-width="1.0" stroke-opacity="0.55"/>
<line x1="971.50" y1="774.5" x2="971.50" y2="778.3" stroke="#4a4a4a" stroke-width="1.1"/>
<text transform="translate(973.70,790.70) rotate(-45)" font-size="14.5" text-anchor="middle" dominant-baseline="central">26</text>
<rect x="986.90" y="310.20" width="25.4" height="6.60" fill="#EE6E6B" stroke="#000" stroke-width="1.0" stroke-opacity="0.55"/>
<rect x="986.90" y="316.80" width="25.4" height="1.70" fill="#844036"/>
<rect x="986.90" y="318.50" width="25.4" height="2.70" fill="#F27A5A" stroke="#000" stroke-width="1.0" stroke-opacity="0.55"/>
<rect x="986.90" y="321.20" width="25.4" height="5.70" fill="#E6822B" stroke="#000" stroke-width="1.0" stroke-opacity="0.55"/>
<rect x="986.90" y="326.90" width="25.4" height="4.80" fill="#9DA83A" stroke="#000" stroke-width="1.0" stroke-opacity="0.55"/>
<rect x="986.90" y="331.70" width="25.4" height="7.60" fill="#72AF44" stroke="#000" stroke-width="1.0" stroke-opacity="0.55"/>
<rect x="986.90" y="339.30" width="25.4" height="1.70" fill="#276249"/>
<rect x="986.90" y="341.00" width="25.4" height="3.00" fill="#1CB6C7" stroke="#000" stroke-width="1.0" stroke-opacity="0.55"/>
<rect x="986.90" y="344.00" width="25.4" height="225.50" fill="#6C91CF" stroke="#000" stroke-width="1.0" stroke-opacity="0.55"/>
<rect x="986.90" y="569.50" width="25.4" height="2.90" fill="#464C6F"/>
<rect x="986.90" y="572.40" width="25.4" height="179.70" fill="#9384C4" stroke="#000" stroke-width="1.0" stroke-opacity="0.55"/>
<rect x="986.90" y="752.10" width="25.4" height="1.00" fill="#5A4567"/>
<rect x="986.90" y="753.10" width="25.4" height="7.60" fill="#B678B4" stroke="#000" stroke-width="1.0" stroke-opacity="0.55"/>
<rect x="986.90" y="760.70" width="25.4" height="5.30" fill="#CB6CAA" stroke="#000" stroke-width="1.0" stroke-opacity="0.55"/>
<rect x="986.90" y="766.00" width="25.4" height="4.00" fill="#EC62A0" stroke="#000" stroke-width="1.0" stroke-opacity="0.55"/>
<rect x="986.90" y="770.00" width="25.4" height="3.80" fill="#EC6892" stroke="#000" stroke-width="1.0" stroke-opacity="0.55"/>
<line x1="1000.00" y1="774.5" x2="1000.00" y2="778.3" stroke="#4a4a4a" stroke-width="1.1"/>
<text transform="translate(1002.20,790.70) rotate(-45)" font-size="14.5" text-anchor="middle" dominant-baseline="central">28</text>
<rect x="1015.40" y="310.20" width="25.4" height="19.60" fill="#EE6E6B" stroke="#000" stroke-width="1.0" stroke-opacity="0.55"/>
<rect x="1015.40" y="329.80" width="25.4" height="6.60" fill="#F27A5A" stroke="#000" stroke-width="1.0" stroke-opacity="0.55"/>
<rect x="1015.40" y="336.40" width="25.4" height="7.60" fill="#E6822B" stroke="#000" stroke-width="1.0" stroke-opacity="0.55"/>
<rect x="1015.40" y="344.00" width="25.4" height="6.70" fill="#60B148" stroke="#000" stroke-width="1.0" stroke-opacity="0.55"/>
<rect x="1015.40" y="350.70" width="25.4" height="381.40" fill="#27B34E" stroke="#000" stroke-width="1.0" stroke-opacity="0.55"/>
<rect x="1015.40" y="732.10" width="25.4" height="1.90" fill="#176334"/>
<rect x="1015.40" y="734.00" width="25.4" height="5.80" fill="#2EB56E" stroke="#000" stroke-width="1.0" stroke-opacity="0.55"/>
<rect x="1015.40" y="739.80" width="25.4" height="6.60" fill="#28B7A3" stroke="#000" stroke-width="1.0" stroke-opacity="0.55"/>
<rect x="1015.40" y="746.40" width="25.4" height="1.00" fill="#2E5965"/>
<rect x="1015.40" y="747.40" width="25.4" height="5.70" fill="#7E8CCC" stroke="#000" stroke-width="1.0" stroke-opacity="0.55"/>
<rect x="1015.40" y="753.10" width="25.4" height="0.90" fill="#55486A"/>
<rect x="1015.40" y="754.00" width="25.4" height="5.80" fill="#B678B4" stroke="#000" stroke-width="1.0" stroke-opacity="0.55"/>
<rect x="1015.40" y="759.80" width="25.4" height="0.90" fill="#733F55"/>
<rect x="1015.40" y="760.70" width="25.4" height="13.10" fill="#EB6E82" stroke="#000" stroke-width="1.0" stroke-opacity="0.55"/>
<line x1="1035.60" y1="774.5" x2="1035.60" y2="778.3" stroke="#4a4a4a" stroke-width="1.1"/>
<text transform="translate(1030.70,790.70) rotate(-45)" font-size="14.5" text-anchor="middle" dominant-baseline="central">32</text>
<text x="1082" y="322.4" font-size="18">TF Family</text>
<rect x="1082.10" y="337.10" width="22.3" height="23.13" fill="#EE6E6B"/>
<line x1="1082.10" y1="337.10" x2="1104.40" y2="337.10" stroke="#bbb" stroke-width="0.5" stroke-opacity="0.6"/>
<text x="1110.70" y="354.20" font-size="19.3">ABI3VP1</text>
<rect x="1082.10" y="360.23" width="22.3" height="23.13" fill="#F27A5A"/>
<line x1="1082.10" y1="360.23" x2="1104.40" y2="360.23" stroke="#bbb" stroke-width="0.5" stroke-opacity="0.6"/>
<text x="1110.70" y="377.33" font-size="19.3">AP2EREBP</text>
<rect x="1082.10" y="383.36" width="22.3" height="23.13" fill="#EB7B45"/>
<line x1="1082.10" y1="383.36" x2="1104.40" y2="383.36" stroke="#bbb" stroke-width="0.5" stroke-opacity="0.6"/>
<text x="1110.70" y="400.46" font-size="19.3">ARF</text>
<rect x="1082.10" y="406.49" width="22.3" height="23.13" fill="#E6822B"/>
<line x1="1082.10" y1="406.49" x2="1104.40" y2="406.49" stroke="#bbb" stroke-width="0.5" stroke-opacity="0.6"/>
<text x="1110.70" y="423.59" font-size="19.3">ARID</text>
<rect x="1082.10" y="429.62" width="22.3" height="23.13" fill="#E08925"/>
<line x1="1082.10" y1="429.62" x2="1104.40" y2="429.62" stroke="#bbb" stroke-width="0.5" stroke-opacity="0.6"/>
<text x="1110.70" y="446.72" font-size="19.3">BBRBPC</text>
<rect x="1082.10" y="452.75" width="22.3" height="23.13" fill="#D68F2B"/>
<line x1="1082.10" y1="452.75" x2="1104.40" y2="452.75" stroke="#bbb" stroke-width="0.5" stroke-opacity="0.6"/>
<text x="1110.70" y="469.85" font-size="19.3">BES1</text>
<rect x="1082.10" y="475.88" width="22.3" height="23.13" fill="#D0952D"/>
<line x1="1082.10" y1="475.88" x2="1104.40" y2="475.88" stroke="#bbb" stroke-width="0.5" stroke-opacity="0.6"/>
<text x="1110.70" y="492.98" font-size="19.3">bHLH</text>
<rect x="1082.10" y="499.01" width="22.3" height="23.13" fill="#C19833"/>
<line x1="1082.10" y1="499.01" x2="1104.40" y2="499.01" stroke="#bbb" stroke-width="0.5" stroke-opacity="0.6"/>
<text x="1110.70" y="516.11" font-size="19.3">BSD</text>
<rect x="1082.10" y="522.14" width="22.3" height="23.13" fill="#C39A35"/>
<line x1="1082.10" y1="522.14" x2="1104.40" y2="522.14" stroke="#bbb" stroke-width="0.5" stroke-opacity="0.6"/>
<text x="1110.70" y="539.24" font-size="19.3">bZIP</text>
<rect x="1082.10" y="545.27" width="22.3" height="23.13" fill="#AE9F35"/>
<line x1="1082.10" y1="545.27" x2="1104.40" y2="545.27" stroke="#bbb" stroke-width="0.5" stroke-opacity="0.6"/>
<text x="1110.70" y="562.37" font-size="19.3">BZR</text>
<rect x="1082.10" y="568.40" width="22.3" height="23.13" fill="#A8A136"/>
<line x1="1082.10" y1="568.40" x2="1104.40" y2="568.40" stroke="#bbb" stroke-width="0.5" stroke-opacity="0.6"/>
<text x="1110.70" y="585.50" font-size="19.3">C2C2COlike</text>
<rect x="1082.10" y="591.53" width="22.3" height="23.13" fill="#9DA83A"/>
<line x1="1082.10" y1="591.53" x2="1104.40" y2="591.53" stroke="#bbb" stroke-width="0.5" stroke-opacity="0.6"/>
<text x="1110.70" y="608.63" font-size="19.3">C2C2dof</text>
<rect x="1082.10" y="614.66" width="22.3" height="23.13" fill="#92A83C"/>
<line x1="1082.10" y1="614.66" x2="1104.40" y2="614.66" stroke="#bbb" stroke-width="0.5" stroke-opacity="0.6"/>
<text x="1110.70" y="631.76" font-size="19.3">C2C2gata</text>
<rect x="1082.10" y="637.79" width="22.3" height="23.13" fill="#84AB40"/>
<line x1="1082.10" y1="637.79" x2="1104.40" y2="637.79" stroke="#bbb" stroke-width="0.5" stroke-opacity="0.6"/>
<text x="1110.70" y="654.89" font-size="19.3">C2C2YABBY</text>
<rect x="1082.10" y="660.92" width="22.3" height="23.13" fill="#72AF44"/>
<line x1="1082.10" y1="660.92" x2="1104.40" y2="660.92" stroke="#bbb" stroke-width="0.5" stroke-opacity="0.6"/>
<text x="1110.70" y="678.02" font-size="19.3">C2H2</text>
<rect x="1082.10" y="684.05" width="22.3" height="23.13" fill="#60B148"/>
<line x1="1082.10" y1="684.05" x2="1104.40" y2="684.05" stroke="#bbb" stroke-width="0.5" stroke-opacity="0.6"/>
<text x="1110.70" y="701.15" font-size="19.3">C3H</text>
<rect x="1082.10" y="707.18" width="22.3" height="23.13" fill="#3FB34B"/>
<line x1="1082.10" y1="707.18" x2="1104.40" y2="707.18" stroke="#bbb" stroke-width="0.5" stroke-opacity="0.6"/>
<text x="1110.70" y="724.28" font-size="19.3">CAMTA</text>
<rect x="1082.10" y="730.31" width="22.3" height="23.13" fill="#25B24D"/>
<line x1="1082.10" y1="730.31" x2="1104.40" y2="730.31" stroke="#bbb" stroke-width="0.5" stroke-opacity="0.6"/>
<text x="1110.70" y="747.41" font-size="19.3">CCAATHAP3</text>
<rect x="1232.20" y="337.10" width="22.3" height="23.13" fill="#27B34E"/>
<line x1="1232.20" y1="337.10" x2="1254.50" y2="337.10" stroke="#bbb" stroke-width="0.5" stroke-opacity="0.6"/>
<text x="1260.80" y="355.70" font-size="19.3">CPP</text>
<rect x="1232.20" y="360.23" width="22.3" height="23.13" fill="#2AB356"/>
<line x1="1232.20" y1="360.23" x2="1254.50" y2="360.23" stroke="#bbb" stroke-width="0.5" stroke-opacity="0.6"/>
<text x="1260.80" y="378.83" font-size="19.3">DBP</text>
<rect x="1232.20" y="383.36" width="22.3" height="23.13" fill="#2DB462"/>
<line x1="1232.20" y1="383.36" x2="1254.50" y2="383.36" stroke="#bbb" stroke-width="0.5" stroke-opacity="0.6"/>
<text x="1260.80" y="401.96" font-size="19.3">E2FDP</text>
<rect x="1232.20" y="406.49" width="22.3" height="23.13" fill="#2EB56E"/>
<line x1="1232.20" y1="406.49" x2="1254.50" y2="406.49" stroke="#bbb" stroke-width="0.5" stroke-opacity="0.6"/>
<text x="1260.80" y="425.09" font-size="19.3">EIL</text>
<rect x="1232.20" y="429.62" width="22.3" height="23.13" fill="#2DB67B"/>
<line x1="1232.20" y1="429.62" x2="1254.50" y2="429.62" stroke="#bbb" stroke-width="0.5" stroke-opacity="0.6"/>
<text x="1260.80" y="448.22" font-size="19.3">FAR1</text>
<rect x="1232.20" y="452.75" width="22.3" height="23.13" fill="#2CB788"/>
<line x1="1232.20" y1="452.75" x2="1254.50" y2="452.75" stroke="#bbb" stroke-width="0.5" stroke-opacity="0.6"/>
<text x="1260.80" y="471.35" font-size="19.3">FHA</text>
<rect x="1232.20" y="475.88" width="22.3" height="23.13" fill="#2BB796"/>
<line x1="1232.20" y1="475.88" x2="1254.50" y2="475.88" stroke="#bbb" stroke-width="0.5" stroke-opacity="0.6"/>
<text x="1260.80" y="494.48" font-size="19.3">G2like</text>
<rect x="1232.20" y="499.01" width="22.3" height="23.13" fill="#28B7A3"/>
<line x1="1232.20" y1="499.01" x2="1254.50" y2="499.01" stroke="#bbb" stroke-width="0.5" stroke-opacity="0.6"/>
<text x="1260.80" y="517.61" font-size="19.3">GeBP</text>
<rect x="1232.20" y="522.14" width="22.3" height="23.13" fill="#24B8B0"/>
<line x1="1232.20" y1="522.14" x2="1254.50" y2="522.14" stroke="#bbb" stroke-width="0.5" stroke-opacity="0.6"/>
<text x="1260.80" y="540.74" font-size="19.3">GRF</text>
<rect x="1232.20" y="545.27" width="22.3" height="23.13" fill="#1FB7BC"/>
<line x1="1232.20" y1="545.27" x2="1254.50" y2="545.27" stroke="#bbb" stroke-width="0.5" stroke-opacity="0.6"/>
<text x="1260.80" y="563.87" font-size="19.3">HB</text>
<rect x="1232.20" y="568.40" width="22.3" height="23.13" fill="#1CB6C7"/>
<line x1="1232.20" y1="568.40" x2="1254.50" y2="568.40" stroke="#bbb" stroke-width="0.5" stroke-opacity="0.6"/>
<text x="1260.80" y="587.00" font-size="19.3">HMG</text>
<rect x="1232.20" y="591.53" width="22.3" height="23.13" fill="#1AB4D2"/>
<line x1="1232.20" y1="591.53" x2="1254.50" y2="591.53" stroke="#bbb" stroke-width="0.5" stroke-opacity="0.6"/>
<text x="1260.80" y="610.13" font-size="19.3">Homeobox</text>
<rect x="1232.20" y="614.66" width="22.3" height="23.13" fill="#18B2DD"/>
<line x1="1232.20" y1="614.66" x2="1254.50" y2="614.66" stroke="#bbb" stroke-width="0.5" stroke-opacity="0.6"/>
<text x="1260.80" y="633.26" font-size="19.3">HSF</text>
<rect x="1232.20" y="637.79" width="22.3" height="23.13" fill="#25ACE0"/>
<line x1="1232.20" y1="637.79" x2="1254.50" y2="637.79" stroke="#bbb" stroke-width="0.5" stroke-opacity="0.6"/>
<text x="1260.80" y="656.39" font-size="19.3">LOBAS2</text>
<rect x="1232.20" y="660.92" width="22.3" height="23.13" fill="#35A6DF"/>
<line x1="1232.20" y1="660.92" x2="1254.50" y2="660.92" stroke="#bbb" stroke-width="0.5" stroke-opacity="0.6"/>
<text x="1260.80" y="679.52" font-size="19.3">MADS</text>
<rect x="1232.20" y="684.05" width="22.3" height="23.13" fill="#3FA0DB"/>
<line x1="1232.20" y1="684.05" x2="1254.50" y2="684.05" stroke="#bbb" stroke-width="0.5" stroke-opacity="0.6"/>
<text x="1260.80" y="702.65" font-size="19.3">mTERF</text>
<rect x="1232.20" y="707.18" width="22.3" height="23.13" fill="#4A9AD6"/>
<line x1="1232.20" y1="707.18" x2="1254.50" y2="707.18" stroke="#bbb" stroke-width="0.5" stroke-opacity="0.6"/>
<text x="1260.80" y="725.78" font-size="19.3">MYB</text>
<rect x="1232.20" y="730.31" width="22.3" height="23.13" fill="#6C91CF"/>
<line x1="1232.20" y1="730.31" x2="1254.50" y2="730.31" stroke="#bbb" stroke-width="0.5" stroke-opacity="0.6"/>
<text x="1260.80" y="748.91" font-size="19.3">MYBrelated</text>
<rect x="1366.20" y="337.10" width="22.3" height="23.13" fill="#7E8CCC"/>
<line x1="1366.20" y1="337.10" x2="1388.50" y2="337.10" stroke="#bbb" stroke-width="0.5" stroke-opacity="0.6"/>
<text x="1394.80" y="354.20" font-size="19.3">NAC</text>
<rect x="1366.20" y="360.23" width="22.3" height="23.13" fill="#8889C9"/>
<line x1="1366.20" y1="360.23" x2="1388.50" y2="360.23" stroke="#bbb" stroke-width="0.5" stroke-opacity="0.6"/>
<text x="1394.80" y="377.33" font-size="19.3">ND</text>
<rect x="1366.20" y="383.36" width="22.3" height="23.13" fill="#9384C4"/>
<line x1="1366.20" y1="383.36" x2="1388.50" y2="383.36" stroke="#bbb" stroke-width="0.5" stroke-opacity="0.6"/>
<text x="1394.80" y="400.46" font-size="19.3">NLP</text>
<rect x="1366.20" y="406.49" width="22.3" height="23.13" fill="#9C80C0"/>
<line x1="1366.20" y1="406.49" x2="1388.50" y2="406.49" stroke="#bbb" stroke-width="0.5" stroke-opacity="0.6"/>
<text x="1394.80" y="423.59" font-size="19.3">Orphan</text>
<rect x="1366.20" y="429.62" width="22.3" height="23.13" fill="#A77BBB"/>
<line x1="1366.20" y1="429.62" x2="1388.50" y2="429.62" stroke="#bbb" stroke-width="0.5" stroke-opacity="0.6"/>
<text x="1394.80" y="446.72" font-size="19.3">PLATZ</text>
<rect x="1366.20" y="452.75" width="22.3" height="23.13" fill="#B678B4"/>
<line x1="1366.20" y1="452.75" x2="1388.50" y2="452.75" stroke="#bbb" stroke-width="0.5" stroke-opacity="0.6"/>
<text x="1394.80" y="469.85" font-size="19.3">RAV</text>
<rect x="1366.20" y="475.88" width="22.3" height="23.13" fill="#B974B2"/>
<line x1="1366.20" y1="475.88" x2="1388.50" y2="475.88" stroke="#bbb" stroke-width="0.5" stroke-opacity="0.6"/>
<text x="1394.80" y="492.98" font-size="19.3">REM</text>
<rect x="1366.20" y="499.01" width="22.3" height="23.13" fill="#C270AE"/>
<line x1="1366.20" y1="499.01" x2="1388.50" y2="499.01" stroke="#bbb" stroke-width="0.5" stroke-opacity="0.6"/>
<text x="1394.80" y="516.11" font-size="19.3">REMB3</text>
<rect x="1366.20" y="522.14" width="22.3" height="23.13" fill="#CB6CAA"/>
<line x1="1366.20" y1="522.14" x2="1388.50" y2="522.14" stroke="#bbb" stroke-width="0.5" stroke-opacity="0.6"/>
<text x="1394.80" y="539.24" font-size="19.3">RWPRK</text>
<rect x="1366.20" y="545.27" width="22.3" height="23.13" fill="#D269AA"/>
<line x1="1366.20" y1="545.27" x2="1388.50" y2="545.27" stroke="#bbb" stroke-width="0.5" stroke-opacity="0.6"/>
<text x="1394.80" y="562.37" font-size="19.3">S1Falike</text>
<rect x="1366.20" y="568.40" width="22.3" height="23.13" fill="#DA66A6"/>
<line x1="1366.20" y1="568.40" x2="1388.50" y2="568.40" stroke="#bbb" stroke-width="0.5" stroke-opacity="0.6"/>
<text x="1394.80" y="585.50" font-size="19.3">SBP</text>
<rect x="1366.20" y="591.53" width="22.3" height="23.13" fill="#E163A2"/>
<line x1="1366.20" y1="591.53" x2="1388.50" y2="591.53" stroke="#bbb" stroke-width="0.5" stroke-opacity="0.6"/>
<text x="1394.80" y="608.63" font-size="19.3">SRS</text>
<rect x="1366.20" y="614.66" width="22.3" height="23.13" fill="#EC62A0"/>
<line x1="1366.20" y1="614.66" x2="1388.50" y2="614.66" stroke="#bbb" stroke-width="0.5" stroke-opacity="0.6"/>
<text x="1394.80" y="631.76" font-size="19.3">TCP</text>
<rect x="1366.20" y="637.79" width="22.3" height="23.13" fill="#EA6499"/>
<line x1="1366.20" y1="637.79" x2="1388.50" y2="637.79" stroke="#bbb" stroke-width="0.5" stroke-opacity="0.6"/>
<text x="1394.80" y="654.89" font-size="19.3">Trihelix</text>
<rect x="1366.20" y="660.92" width="22.3" height="23.13" fill="#EC6892"/>
<line x1="1366.20" y1="660.92" x2="1388.50" y2="660.92" stroke="#bbb" stroke-width="0.5" stroke-opacity="0.6"/>
<text x="1394.80" y="678.02" font-size="19.3">WRKY</text>
<rect x="1366.20" y="684.05" width="22.3" height="23.13" fill="#EC6B8A"/>
<line x1="1366.20" y1="684.05" x2="1388.50" y2="684.05" stroke="#bbb" stroke-width="0.5" stroke-opacity="0.6"/>
<text x="1394.80" y="701.15" font-size="19.3">zfGRF</text>
<rect x="1366.20" y="707.18" width="22.3" height="23.13" fill="#EB6E82"/>
<line x1="1366.20" y1="707.18" x2="1388.50" y2="707.18" stroke="#bbb" stroke-width="0.5" stroke-opacity="0.6"/>
<text x="1394.80" y="724.28" font-size="19.3">ZFHD</text>
</g></svg>
</body></html>
